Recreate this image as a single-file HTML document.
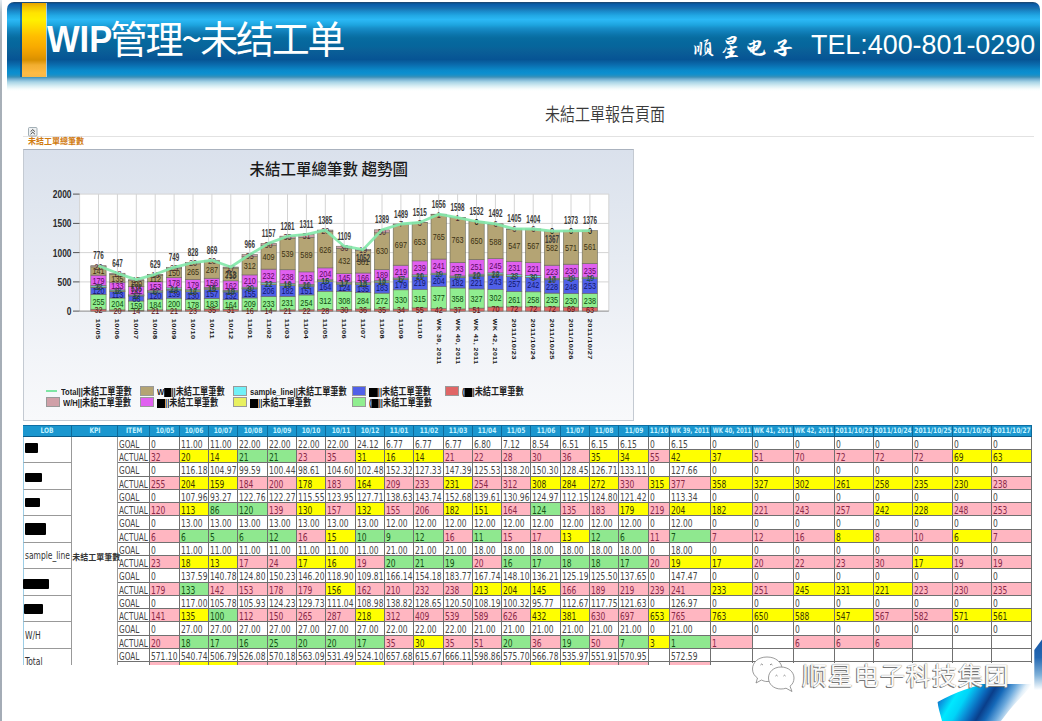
<!DOCTYPE html>
<html lang="zh">
<head>
<meta charset="utf-8">
<title>WIP管理~未结工单</title>
<style>
html,body{margin:0;padding:0;}
body{width:1042px;height:721px;overflow:hidden;position:relative;background:#fff;font-family:"Liberation Sans","Noto Sans CJK SC",sans-serif;}
.frame{position:absolute;left:0;top:0;width:1.5px;height:721px;background:linear-gradient(to bottom,#e4ecf2 0px,#b8c4cc 12px,#a8b0b8 40px,#a4acb6 100%);}
.hdr{position:absolute;left:7px;top:2px;width:1033px;height:90px;border-radius:7px 7px 0 0;
background:linear-gradient(to bottom,#ffffff 0px,#1a4a78 0.5px,#0d4f8a 1px,#0a5fa8 2.5px,#1064b0 4px,#1873b0 6.5px,#1a88c8 9px,#1c96d6 11px,#22a8e4 13.5px,#2bb8f5 17.5px,#26b0ec 20px,#1da4de 23px,#1890ca 26px,#1282bc 29px,#0b74aa 33px,#086ca0 36px,#06689e 40px,#06669c 44px,#0a6098 48px,#065494 57.5px,#0a68aa 62px,#0a88c8 68px,#0b8fd0 71px,#1890c8 73px,#3a90b8 75px,#70aed0 77px,#a8d4e6 80px,#d8eef4 84px,#f6fcfc 87px,#ffffff 89px);}
.ybar{position:absolute;left:22px;top:2.5px;width:24px;height:74px;
background:linear-gradient(to bottom,#e8a400 0px,#f2c400 4px,#ffe400 10px,#fff000 17px,#ffd800 25px,#ffbe00 33px,#f8aa00 44px,#e89a00 52px,#d89000 57px,#f2ae30 62px,#ffbb44 70px,#f8b848 74px);
box-shadow:1px 0 0 rgba(255,255,255,0.6),-2px 0 0 rgba(10,60,120,0.5);}
.t1{position:absolute;left:47px;top:11px;color:#fff;font-size:33.5px;white-space:nowrap;line-height:48px;}
.t1 b{font-weight:bold;font-family:"Liberation Sans",sans-serif;font-size:34.5px;display:inline-block;transform:scaleY(1.05);margin-right:-2.5px;}
.t1 span{font-family:"Noto Sans CJK SC",sans-serif;font-size:38px;letter-spacing:-2.2px;position:relative;top:1.5px;}
.t2{position:absolute;left:692px;top:29.5px;color:#fff;font-size:26px;line-height:36px;white-space:nowrap;font-family:"Zhi Mang Xing","Noto Serif CJK SC",serif;letter-spacing:3px;}
.t3{position:absolute;left:811px;top:26.5px;color:#fff;font-size:28px;line-height:36px;white-space:nowrap;font-family:"Liberation Sans",sans-serif;transform:scaleX(0.96);transform-origin:0 0;}
.ptitle{position:absolute;left:545px;top:102px;font-size:15px;line-height:20px;color:#3a3a3a;font-family:"Noto Sans CJK TC",sans-serif;font-weight:350;white-space:nowrap;transform:scaleY(1.2);transform-origin:0 0;}
.sep{position:absolute;left:23px;top:136px;width:1011px;height:1px;background:#e2e2e2;}
.ico{position:absolute;left:28px;top:127.5px;width:8px;height:8px;border:0.5px solid #9aa;background:#eef0f2;border-radius:1px;font-size:7px;line-height:4px;color:#555;text-align:center;overflow:hidden;}
.otitle{position:absolute;left:28px;top:135px;font-size:8px;line-height:12px;color:#d07a10;font-weight:bold;font-family:"Noto Sans CJK TC",sans-serif;white-space:nowrap;}
.chart{position:absolute;left:23px;top:148.5px;width:610.5px;height:272px;box-sizing:border-box;border:1px solid #c4cad2;border-top-color:#aab2be;background:linear-gradient(to bottom,#dae1ec 0%,#e6ebf2 40%,#f2f4f8 75%,#f8f9fb 100%);}
svg.ch{position:absolute;left:0;top:0;}
.ctitle{position:absolute;left:249.5px;top:157.5px;font-size:15.5px;line-height:20px;color:#1a1a1a;font-weight:500;font-family:"Noto Sans CJK TC",sans-serif;white-space:nowrap;}
.yl{font-family:"Liberation Sans",sans-serif;font-size:10.5px;font-weight:bold;fill:#2a2a2a;text-anchor:end;}
.sl{font-family:"Liberation Sans",sans-serif;font-size:9.8px;text-anchor:middle;}
.tl{font-family:"Liberation Sans",sans-serif;font-size:10.5px;font-weight:bold;fill:#3a3a3a;text-anchor:middle;}
.xl{font-family:"Liberation Sans",sans-serif;font-size:7.5px;font-weight:bold;fill:#111;letter-spacing:0.4px;}
.xw{letter-spacing:0.5px;font-size:7px;}
.lg{position:absolute;height:12px;line-height:12px;font-size:9.5px;color:#222;white-space:nowrap;font-family:"Liberation Sans","Noto Sans CJK TC",sans-serif;}
.lg b.sw{display:inline-block;width:12px;height:8px;border:1px solid #999;vertical-align:-1px;margin-right:3px;}
.lg b.ln{display:inline-block;width:11px;height:2px;vertical-align:3px;margin-right:4px;}
.lg span{display:inline-block;transform:scaleX(0.8);transform-origin:0 50%;font-weight:bold;}
.lg em{font-style:normal;font-size:10.2px;}
.rdi{display:inline-block;height:9px;background:#000;vertical-align:-2px;}
.h{position:absolute;top:425px;height:12px;line-height:10.5px;background:#1b97cf;border-top:1px solid #0d6fa5;border-bottom:1px solid #0a5a88;border-right:1px solid #0d6a9a;box-sizing:border-box;color:#c4f2ff;font-size:7.5px;font-weight:bold;text-align:center;white-space:nowrap;overflow:hidden;font-family:"DejaVu Sans",sans-serif;font-stretch:condensed;}
.h span{position:absolute;left:50%;top:0;transform:translateX(-50%) scaleX(0.88);}
.h.wk span{transform:translateX(-50%) scaleX(0.8);}
.c{position:absolute;box-sizing:border-box;border-right:1px solid #707070;border-bottom:1px solid #707070;font-size:10px;line-height:12.3px;padding-left:1px;white-space:nowrap;overflow:hidden;font-family:"DejaVu Sans",sans-serif;font-stretch:condensed;}
.c span{display:inline-block;transform:scaleX(0.84);transform-origin:0 50%;position:relative;top:2px;}
.it{color:#444 !important;}
.it span{transform:scaleX(0.81);}
.tbl{position:absolute;left:0;top:0;width:1042px;height:665px;overflow:hidden;}
.lob{position:absolute;left:23.3px;width:49px;box-sizing:border-box;border-left:1px solid #9ccde6;border-right:1.5px solid #999;border-bottom:1.5px solid #999;background:#fff;font-size:10px;color:#333;display:flex;align-items:center;padding-left:1px;font-family:"DejaVu Sans",sans-serif;font-stretch:condensed;white-space:nowrap;}
.lob span{display:inline-block;transform:scaleX(0.84);transform-origin:0 50%;}
.rd{position:absolute;background:#000;border-radius:1px;}
.kpi{position:absolute;left:72.3px;width:46px;box-sizing:border-box;border-right:1px solid #999;background:#fff;display:flex;align-items:center;font-size:8px;font-weight:bold;color:#333;font-family:"Noto Sans CJK TC",sans-serif;white-space:nowrap;}
.wm{position:absolute;left:745px;top:663px;width:288px;height:21px;background:#fff;}
.wmt{position:absolute;left:802px;top:657px;font-size:25px;letter-spacing:1px;line-height:34px;color:#fafafa;font-family:"Noto Sans CJK SC",sans-serif;white-space:nowrap;text-shadow:-1px 1px 0 #777,0 0 1px #555;}
</style>
</head>
<body>
<div class="frame"></div>
<div class="hdr"></div>
<div class="ybar"></div>
<div class="t1"><b>WIP</b><span>管理~未结工单</span></div>
<div class="t2">顺星电子</div>
<div class="t3">TEL:400-801-0290</div>

<div class="ptitle">未結工單報告頁面</div>
<div class="sep"></div>
<svg style="position:absolute;left:28px;top:127px" width="10" height="10" viewBox="0 0 10 10"><rect x="0.5" y="0.5" width="8.5" height="8.5" rx="1" fill="#eef1f3" stroke="#8e9ca4" stroke-width="0.8"/><path d="M2.6,4.6 L4.75,2.6 L6.9,4.6 M2.6,7.2 L4.75,5.2 L6.9,7.2" fill="none" stroke="#333" stroke-width="0.9"/></svg>
<div class="otitle">未結工單總筆數</div>

<div class="chart"></div>
<svg class="ch" width="1042" height="430" viewBox="0 0 1042 430">
<rect x="79.6" y="194" width="529.2" height="117.1" fill="#fff"/>
<line x1="79.6" y1="194" x2="79.6" y2="311.1" stroke="#d4d4d4" stroke-width="1"/>
<line x1="98.5" y1="194" x2="98.5" y2="311.1" stroke="#d4d4d4" stroke-width="1"/>
<line x1="117.4" y1="194" x2="117.4" y2="311.1" stroke="#d4d4d4" stroke-width="1"/>
<line x1="136.3" y1="194" x2="136.3" y2="311.1" stroke="#d4d4d4" stroke-width="1"/>
<line x1="155.2" y1="194" x2="155.2" y2="311.1" stroke="#d4d4d4" stroke-width="1"/>
<line x1="174.1" y1="194" x2="174.1" y2="311.1" stroke="#d4d4d4" stroke-width="1"/>
<line x1="193.0" y1="194" x2="193.0" y2="311.1" stroke="#d4d4d4" stroke-width="1"/>
<line x1="211.9" y1="194" x2="211.9" y2="311.1" stroke="#d4d4d4" stroke-width="1"/>
<line x1="230.8" y1="194" x2="230.8" y2="311.1" stroke="#d4d4d4" stroke-width="1"/>
<line x1="249.7" y1="194" x2="249.7" y2="311.1" stroke="#d4d4d4" stroke-width="1"/>
<line x1="268.6" y1="194" x2="268.6" y2="311.1" stroke="#d4d4d4" stroke-width="1"/>
<line x1="287.5" y1="194" x2="287.5" y2="311.1" stroke="#d4d4d4" stroke-width="1"/>
<line x1="306.4" y1="194" x2="306.4" y2="311.1" stroke="#d4d4d4" stroke-width="1"/>
<line x1="325.3" y1="194" x2="325.3" y2="311.1" stroke="#d4d4d4" stroke-width="1"/>
<line x1="344.2" y1="194" x2="344.2" y2="311.1" stroke="#d4d4d4" stroke-width="1"/>
<line x1="363.1" y1="194" x2="363.1" y2="311.1" stroke="#d4d4d4" stroke-width="1"/>
<line x1="382.0" y1="194" x2="382.0" y2="311.1" stroke="#d4d4d4" stroke-width="1"/>
<line x1="400.9" y1="194" x2="400.9" y2="311.1" stroke="#d4d4d4" stroke-width="1"/>
<line x1="419.8" y1="194" x2="419.8" y2="311.1" stroke="#d4d4d4" stroke-width="1"/>
<line x1="438.7" y1="194" x2="438.7" y2="311.1" stroke="#d4d4d4" stroke-width="1"/>
<line x1="457.6" y1="194" x2="457.6" y2="311.1" stroke="#d4d4d4" stroke-width="1"/>
<line x1="476.5" y1="194" x2="476.5" y2="311.1" stroke="#d4d4d4" stroke-width="1"/>
<line x1="495.4" y1="194" x2="495.4" y2="311.1" stroke="#d4d4d4" stroke-width="1"/>
<line x1="514.3" y1="194" x2="514.3" y2="311.1" stroke="#d4d4d4" stroke-width="1"/>
<line x1="533.2" y1="194" x2="533.2" y2="311.1" stroke="#d4d4d4" stroke-width="1"/>
<line x1="552.1" y1="194" x2="552.1" y2="311.1" stroke="#d4d4d4" stroke-width="1"/>
<line x1="571.0" y1="194" x2="571.0" y2="311.1" stroke="#d4d4d4" stroke-width="1"/>
<line x1="589.9" y1="194" x2="589.9" y2="311.1" stroke="#d4d4d4" stroke-width="1"/>
<line x1="608.8" y1="194" x2="608.8" y2="311.1" stroke="#d4d4d4" stroke-width="1"/>
<line x1="79.6" y1="281.9" x2="608.8" y2="281.9" stroke="#d4d4d4" stroke-width="1"/>
<line x1="79.6" y1="252.6" x2="608.8" y2="252.6" stroke="#d4d4d4" stroke-width="1"/>
<line x1="79.6" y1="223.4" x2="608.8" y2="223.4" stroke="#d4d4d4" stroke-width="1"/>
<line x1="79.6" y1="194.1" x2="608.8" y2="194.1" stroke="#d4d4d4" stroke-width="1"/>
<line x1="73" y1="311.1" x2="79.6" y2="311.1" stroke="#555" stroke-width="1"/>
<text transform="translate(71.5,315.0) scale(0.8,1)" class="yl">0</text>
<line x1="73" y1="281.9" x2="79.6" y2="281.9" stroke="#555" stroke-width="1"/>
<text transform="translate(71.5,285.8) scale(0.8,1)" class="yl">500</text>
<line x1="73" y1="252.6" x2="79.6" y2="252.6" stroke="#555" stroke-width="1"/>
<text transform="translate(71.5,256.5) scale(0.8,1)" class="yl">1000</text>
<line x1="73" y1="223.4" x2="79.6" y2="223.4" stroke="#555" stroke-width="1"/>
<text transform="translate(71.5,227.3) scale(0.8,1)" class="yl">1500</text>
<line x1="73" y1="194.1" x2="79.6" y2="194.1" stroke="#555" stroke-width="1"/>
<text transform="translate(71.5,198.0) scale(0.8,1)" class="yl">2000</text>
<line x1="79.6" y1="311.1" x2="608.8" y2="311.1" stroke="#888" stroke-width="1"/>
<rect x="90.8" y="309.23" width="15.3" height="1.87" fill="#e06666" stroke="#6a6a5a" stroke-width="0.6"/>
<rect x="90.8" y="294.31" width="15.3" height="14.92" fill="#90ee90" stroke="#6a6a5a" stroke-width="0.6"/>
<rect x="90.8" y="287.29" width="15.3" height="7.02" fill="#5060e8" stroke="#6a6a5a" stroke-width="0.6"/>
<rect x="90.8" y="286.94" width="15.3" height="0.35" fill="#e8f060" stroke="#6a6a5a" stroke-width="0.6"/>
<rect x="90.8" y="285.59" width="15.3" height="1.35" fill="#70f0f8" stroke="#6a6a5a" stroke-width="0.6"/>
<rect x="90.8" y="275.12" width="15.3" height="10.47" fill="#e060f0" stroke="#6a6a5a" stroke-width="0.6"/>
<rect x="90.8" y="266.87" width="15.3" height="8.25" fill="#b4a474" stroke="#6a6a5a" stroke-width="0.6"/>
<rect x="90.8" y="265.70" width="15.3" height="1.17" fill="#d0a0a8" stroke="#6a6a5a" stroke-width="0.6"/>
<rect x="109.7" y="309.93" width="15.3" height="1.17" fill="#e06666" stroke="#6a6a5a" stroke-width="0.6"/>
<rect x="109.7" y="298.00" width="15.3" height="11.93" fill="#90ee90" stroke="#6a6a5a" stroke-width="0.6"/>
<rect x="109.7" y="291.39" width="15.3" height="6.61" fill="#5060e8" stroke="#6a6a5a" stroke-width="0.6"/>
<rect x="109.7" y="291.03" width="15.3" height="0.35" fill="#e8f060" stroke="#6a6a5a" stroke-width="0.6"/>
<rect x="109.7" y="289.98" width="15.3" height="1.05" fill="#70f0f8" stroke="#6a6a5a" stroke-width="0.6"/>
<rect x="109.7" y="282.20" width="15.3" height="7.78" fill="#e060f0" stroke="#6a6a5a" stroke-width="0.6"/>
<rect x="109.7" y="274.30" width="15.3" height="7.90" fill="#b4a474" stroke="#6a6a5a" stroke-width="0.6"/>
<rect x="109.7" y="273.25" width="15.3" height="1.05" fill="#d0a0a8" stroke="#6a6a5a" stroke-width="0.6"/>
<rect x="128.6" y="310.28" width="15.3" height="0.82" fill="#e06666" stroke="#6a6a5a" stroke-width="0.6"/>
<rect x="128.6" y="300.98" width="15.3" height="9.30" fill="#90ee90" stroke="#6a6a5a" stroke-width="0.6"/>
<rect x="128.6" y="295.95" width="15.3" height="5.03" fill="#5060e8" stroke="#6a6a5a" stroke-width="0.6"/>
<rect x="128.6" y="295.66" width="15.3" height="0.29" fill="#e8f060" stroke="#6a6a5a" stroke-width="0.6"/>
<rect x="128.6" y="294.90" width="15.3" height="0.76" fill="#70f0f8" stroke="#6a6a5a" stroke-width="0.6"/>
<rect x="128.6" y="286.59" width="15.3" height="8.31" fill="#e060f0" stroke="#6a6a5a" stroke-width="0.6"/>
<rect x="128.6" y="280.74" width="15.3" height="5.85" fill="#b4a474" stroke="#6a6a5a" stroke-width="0.6"/>
<rect x="128.6" y="279.74" width="15.3" height="0.99" fill="#d0a0a8" stroke="#6a6a5a" stroke-width="0.6"/>
<rect x="147.5" y="309.87" width="15.3" height="1.23" fill="#e06666" stroke="#6a6a5a" stroke-width="0.6"/>
<rect x="147.5" y="299.11" width="15.3" height="10.76" fill="#90ee90" stroke="#6a6a5a" stroke-width="0.6"/>
<rect x="147.5" y="292.09" width="15.3" height="7.02" fill="#5060e8" stroke="#6a6a5a" stroke-width="0.6"/>
<rect x="147.5" y="291.74" width="15.3" height="0.35" fill="#e8f060" stroke="#6a6a5a" stroke-width="0.6"/>
<rect x="147.5" y="290.74" width="15.3" height="0.99" fill="#70f0f8" stroke="#6a6a5a" stroke-width="0.6"/>
<rect x="147.5" y="281.79" width="15.3" height="8.95" fill="#e060f0" stroke="#6a6a5a" stroke-width="0.6"/>
<rect x="147.5" y="275.24" width="15.3" height="6.55" fill="#b4a474" stroke="#6a6a5a" stroke-width="0.6"/>
<rect x="147.5" y="274.30" width="15.3" height="0.94" fill="#d0a0a8" stroke="#6a6a5a" stroke-width="0.6"/>
<rect x="166.4" y="309.87" width="15.3" height="1.23" fill="#e06666" stroke="#6a6a5a" stroke-width="0.6"/>
<rect x="166.4" y="298.17" width="15.3" height="11.70" fill="#90ee90" stroke="#6a6a5a" stroke-width="0.6"/>
<rect x="166.4" y="290.04" width="15.3" height="8.13" fill="#5060e8" stroke="#6a6a5a" stroke-width="0.6"/>
<rect x="166.4" y="289.34" width="15.3" height="0.70" fill="#e8f060" stroke="#6a6a5a" stroke-width="0.6"/>
<rect x="166.4" y="287.93" width="15.3" height="1.40" fill="#70f0f8" stroke="#6a6a5a" stroke-width="0.6"/>
<rect x="166.4" y="277.52" width="15.3" height="10.41" fill="#e060f0" stroke="#6a6a5a" stroke-width="0.6"/>
<rect x="166.4" y="268.75" width="15.3" height="8.77" fill="#b4a474" stroke="#6a6a5a" stroke-width="0.6"/>
<rect x="166.4" y="267.28" width="15.3" height="1.46" fill="#d0a0a8" stroke="#6a6a5a" stroke-width="0.6"/>
<rect x="185.3" y="309.75" width="15.3" height="1.35" fill="#e06666" stroke="#6a6a5a" stroke-width="0.6"/>
<rect x="185.3" y="299.34" width="15.3" height="10.41" fill="#90ee90" stroke="#6a6a5a" stroke-width="0.6"/>
<rect x="185.3" y="291.74" width="15.3" height="7.60" fill="#5060e8" stroke="#6a6a5a" stroke-width="0.6"/>
<rect x="185.3" y="290.80" width="15.3" height="0.94" fill="#e8f060" stroke="#6a6a5a" stroke-width="0.6"/>
<rect x="185.3" y="289.81" width="15.3" height="0.99" fill="#70f0f8" stroke="#6a6a5a" stroke-width="0.6"/>
<rect x="185.3" y="279.33" width="15.3" height="10.47" fill="#e060f0" stroke="#6a6a5a" stroke-width="0.6"/>
<rect x="185.3" y="263.83" width="15.3" height="15.50" fill="#b4a474" stroke="#6a6a5a" stroke-width="0.6"/>
<rect x="185.3" y="262.66" width="15.3" height="1.17" fill="#d0a0a8" stroke="#6a6a5a" stroke-width="0.6"/>
<rect x="204.2" y="309.05" width="15.3" height="2.05" fill="#e06666" stroke="#6a6a5a" stroke-width="0.6"/>
<rect x="204.2" y="298.35" width="15.3" height="10.71" fill="#90ee90" stroke="#6a6a5a" stroke-width="0.6"/>
<rect x="204.2" y="289.16" width="15.3" height="9.18" fill="#5060e8" stroke="#6a6a5a" stroke-width="0.6"/>
<rect x="204.2" y="288.29" width="15.3" height="0.88" fill="#e8f060" stroke="#6a6a5a" stroke-width="0.6"/>
<rect x="204.2" y="287.35" width="15.3" height="0.94" fill="#70f0f8" stroke="#6a6a5a" stroke-width="0.6"/>
<rect x="204.2" y="278.22" width="15.3" height="9.13" fill="#e060f0" stroke="#6a6a5a" stroke-width="0.6"/>
<rect x="204.2" y="261.43" width="15.3" height="16.79" fill="#b4a474" stroke="#6a6a5a" stroke-width="0.6"/>
<rect x="204.2" y="260.26" width="15.3" height="1.17" fill="#d0a0a8" stroke="#6a6a5a" stroke-width="0.6"/>
<rect x="223.1" y="309.29" width="15.3" height="1.81" fill="#e06666" stroke="#6a6a5a" stroke-width="0.6"/>
<rect x="223.1" y="299.69" width="15.3" height="9.59" fill="#90ee90" stroke="#6a6a5a" stroke-width="0.6"/>
<rect x="223.1" y="291.97" width="15.3" height="7.72" fill="#5060e8" stroke="#6a6a5a" stroke-width="0.6"/>
<rect x="223.1" y="291.39" width="15.3" height="0.58" fill="#e8f060" stroke="#6a6a5a" stroke-width="0.6"/>
<rect x="223.1" y="290.27" width="15.3" height="1.11" fill="#70f0f8" stroke="#6a6a5a" stroke-width="0.6"/>
<rect x="223.1" y="280.80" width="15.3" height="9.48" fill="#e060f0" stroke="#6a6a5a" stroke-width="0.6"/>
<rect x="223.1" y="268.04" width="15.3" height="12.75" fill="#b4a474" stroke="#6a6a5a" stroke-width="0.6"/>
<rect x="223.1" y="267.05" width="15.3" height="0.99" fill="#d0a0a8" stroke="#6a6a5a" stroke-width="0.6"/>
<rect x="242.0" y="310.16" width="15.3" height="0.94" fill="#e06666" stroke="#6a6a5a" stroke-width="0.6"/>
<rect x="242.0" y="297.94" width="15.3" height="12.23" fill="#90ee90" stroke="#6a6a5a" stroke-width="0.6"/>
<rect x="242.0" y="288.87" width="15.3" height="9.07" fill="#5060e8" stroke="#6a6a5a" stroke-width="0.6"/>
<rect x="242.0" y="288.34" width="15.3" height="0.53" fill="#e8f060" stroke="#6a6a5a" stroke-width="0.6"/>
<rect x="242.0" y="287.17" width="15.3" height="1.17" fill="#70f0f8" stroke="#6a6a5a" stroke-width="0.6"/>
<rect x="242.0" y="274.89" width="15.3" height="12.29" fill="#e060f0" stroke="#6a6a5a" stroke-width="0.6"/>
<rect x="242.0" y="256.64" width="15.3" height="18.25" fill="#b4a474" stroke="#6a6a5a" stroke-width="0.6"/>
<rect x="242.0" y="254.59" width="15.3" height="2.05" fill="#d0a0a8" stroke="#6a6a5a" stroke-width="0.6"/>
<rect x="261.0" y="310.28" width="15.3" height="0.82" fill="#e06666" stroke="#6a6a5a" stroke-width="0.6"/>
<rect x="261.0" y="296.65" width="15.3" height="13.63" fill="#90ee90" stroke="#6a6a5a" stroke-width="0.6"/>
<rect x="261.0" y="284.60" width="15.3" height="12.05" fill="#5060e8" stroke="#6a6a5a" stroke-width="0.6"/>
<rect x="261.0" y="283.90" width="15.3" height="0.70" fill="#e8f060" stroke="#6a6a5a" stroke-width="0.6"/>
<rect x="261.0" y="282.67" width="15.3" height="1.23" fill="#70f0f8" stroke="#6a6a5a" stroke-width="0.6"/>
<rect x="261.0" y="269.10" width="15.3" height="13.57" fill="#e060f0" stroke="#6a6a5a" stroke-width="0.6"/>
<rect x="261.0" y="245.17" width="15.3" height="23.93" fill="#b4a474" stroke="#6a6a5a" stroke-width="0.6"/>
<rect x="261.0" y="243.42" width="15.3" height="1.75" fill="#d0a0a8" stroke="#6a6a5a" stroke-width="0.6"/>
<rect x="279.9" y="309.87" width="15.3" height="1.23" fill="#e06666" stroke="#6a6a5a" stroke-width="0.6"/>
<rect x="279.9" y="296.36" width="15.3" height="13.51" fill="#90ee90" stroke="#6a6a5a" stroke-width="0.6"/>
<rect x="279.9" y="285.71" width="15.3" height="10.65" fill="#5060e8" stroke="#6a6a5a" stroke-width="0.6"/>
<rect x="279.9" y="284.78" width="15.3" height="0.94" fill="#e8f060" stroke="#6a6a5a" stroke-width="0.6"/>
<rect x="279.9" y="283.66" width="15.3" height="1.11" fill="#70f0f8" stroke="#6a6a5a" stroke-width="0.6"/>
<rect x="279.9" y="269.74" width="15.3" height="13.92" fill="#e060f0" stroke="#6a6a5a" stroke-width="0.6"/>
<rect x="279.9" y="238.21" width="15.3" height="31.53" fill="#b4a474" stroke="#6a6a5a" stroke-width="0.6"/>
<rect x="279.9" y="236.16" width="15.3" height="2.05" fill="#d0a0a8" stroke="#6a6a5a" stroke-width="0.6"/>
<rect x="298.8" y="309.81" width="15.3" height="1.29" fill="#e06666" stroke="#6a6a5a" stroke-width="0.6"/>
<rect x="298.8" y="294.95" width="15.3" height="14.86" fill="#90ee90" stroke="#6a6a5a" stroke-width="0.6"/>
<rect x="298.8" y="286.12" width="15.3" height="8.83" fill="#5060e8" stroke="#6a6a5a" stroke-width="0.6"/>
<rect x="298.8" y="285.48" width="15.3" height="0.64" fill="#e8f060" stroke="#6a6a5a" stroke-width="0.6"/>
<rect x="298.8" y="284.31" width="15.3" height="1.17" fill="#70f0f8" stroke="#6a6a5a" stroke-width="0.6"/>
<rect x="298.8" y="271.85" width="15.3" height="12.46" fill="#e060f0" stroke="#6a6a5a" stroke-width="0.6"/>
<rect x="298.8" y="237.39" width="15.3" height="34.46" fill="#b4a474" stroke="#6a6a5a" stroke-width="0.6"/>
<rect x="298.8" y="234.41" width="15.3" height="2.98" fill="#d0a0a8" stroke="#6a6a5a" stroke-width="0.6"/>
<rect x="317.6" y="309.46" width="15.3" height="1.64" fill="#e06666" stroke="#6a6a5a" stroke-width="0.6"/>
<rect x="317.6" y="291.21" width="15.3" height="18.25" fill="#90ee90" stroke="#6a6a5a" stroke-width="0.6"/>
<rect x="317.6" y="281.62" width="15.3" height="9.59" fill="#5060e8" stroke="#6a6a5a" stroke-width="0.6"/>
<rect x="317.6" y="280.74" width="15.3" height="0.88" fill="#e8f060" stroke="#6a6a5a" stroke-width="0.6"/>
<rect x="317.6" y="279.80" width="15.3" height="0.94" fill="#70f0f8" stroke="#6a6a5a" stroke-width="0.6"/>
<rect x="317.6" y="267.87" width="15.3" height="11.93" fill="#e060f0" stroke="#6a6a5a" stroke-width="0.6"/>
<rect x="317.6" y="231.25" width="15.3" height="36.62" fill="#b4a474" stroke="#6a6a5a" stroke-width="0.6"/>
<rect x="317.6" y="230.08" width="15.3" height="1.17" fill="#d0a0a8" stroke="#6a6a5a" stroke-width="0.6"/>
<rect x="336.5" y="309.35" width="15.3" height="1.75" fill="#e06666" stroke="#6a6a5a" stroke-width="0.6"/>
<rect x="336.5" y="291.33" width="15.3" height="18.02" fill="#90ee90" stroke="#6a6a5a" stroke-width="0.6"/>
<rect x="336.5" y="284.07" width="15.3" height="7.25" fill="#5060e8" stroke="#6a6a5a" stroke-width="0.6"/>
<rect x="336.5" y="283.08" width="15.3" height="0.99" fill="#e8f060" stroke="#6a6a5a" stroke-width="0.6"/>
<rect x="336.5" y="282.08" width="15.3" height="0.99" fill="#70f0f8" stroke="#6a6a5a" stroke-width="0.6"/>
<rect x="336.5" y="273.60" width="15.3" height="8.48" fill="#e060f0" stroke="#6a6a5a" stroke-width="0.6"/>
<rect x="336.5" y="248.33" width="15.3" height="25.27" fill="#b4a474" stroke="#6a6a5a" stroke-width="0.6"/>
<rect x="336.5" y="246.22" width="15.3" height="2.11" fill="#d0a0a8" stroke="#6a6a5a" stroke-width="0.6"/>
<rect x="355.5" y="308.99" width="15.3" height="2.11" fill="#e06666" stroke="#6a6a5a" stroke-width="0.6"/>
<rect x="355.5" y="292.38" width="15.3" height="16.61" fill="#90ee90" stroke="#6a6a5a" stroke-width="0.6"/>
<rect x="355.5" y="284.48" width="15.3" height="7.90" fill="#5060e8" stroke="#6a6a5a" stroke-width="0.6"/>
<rect x="355.5" y="283.72" width="15.3" height="0.76" fill="#e8f060" stroke="#6a6a5a" stroke-width="0.6"/>
<rect x="355.5" y="282.67" width="15.3" height="1.05" fill="#70f0f8" stroke="#6a6a5a" stroke-width="0.6"/>
<rect x="355.5" y="272.96" width="15.3" height="9.71" fill="#e060f0" stroke="#6a6a5a" stroke-width="0.6"/>
<rect x="355.5" y="250.67" width="15.3" height="22.29" fill="#b4a474" stroke="#6a6a5a" stroke-width="0.6"/>
<rect x="355.5" y="249.56" width="15.3" height="1.11" fill="#d0a0a8" stroke="#6a6a5a" stroke-width="0.6"/>
<rect x="374.4" y="309.05" width="15.3" height="2.05" fill="#e06666" stroke="#6a6a5a" stroke-width="0.6"/>
<rect x="374.4" y="293.14" width="15.3" height="15.91" fill="#90ee90" stroke="#6a6a5a" stroke-width="0.6"/>
<rect x="374.4" y="282.44" width="15.3" height="10.71" fill="#5060e8" stroke="#6a6a5a" stroke-width="0.6"/>
<rect x="374.4" y="281.73" width="15.3" height="0.70" fill="#e8f060" stroke="#6a6a5a" stroke-width="0.6"/>
<rect x="374.4" y="280.68" width="15.3" height="1.05" fill="#70f0f8" stroke="#6a6a5a" stroke-width="0.6"/>
<rect x="374.4" y="269.62" width="15.3" height="11.06" fill="#e060f0" stroke="#6a6a5a" stroke-width="0.6"/>
<rect x="374.4" y="232.77" width="15.3" height="36.86" fill="#b4a474" stroke="#6a6a5a" stroke-width="0.6"/>
<rect x="374.4" y="229.84" width="15.3" height="2.93" fill="#d0a0a8" stroke="#6a6a5a" stroke-width="0.6"/>
<rect x="393.2" y="309.11" width="15.3" height="1.99" fill="#e06666" stroke="#6a6a5a" stroke-width="0.6"/>
<rect x="393.2" y="289.81" width="15.3" height="19.31" fill="#90ee90" stroke="#6a6a5a" stroke-width="0.6"/>
<rect x="393.2" y="279.33" width="15.3" height="10.47" fill="#5060e8" stroke="#6a6a5a" stroke-width="0.6"/>
<rect x="393.2" y="278.98" width="15.3" height="0.35" fill="#e8f060" stroke="#6a6a5a" stroke-width="0.6"/>
<rect x="393.2" y="277.99" width="15.3" height="0.99" fill="#70f0f8" stroke="#6a6a5a" stroke-width="0.6"/>
<rect x="393.2" y="265.18" width="15.3" height="12.81" fill="#e060f0" stroke="#6a6a5a" stroke-width="0.6"/>
<rect x="393.2" y="224.40" width="15.3" height="40.77" fill="#b4a474" stroke="#6a6a5a" stroke-width="0.6"/>
<rect x="393.2" y="223.99" width="15.3" height="0.41" fill="#d0a0a8" stroke="#6a6a5a" stroke-width="0.6"/>
<rect x="412.1" y="307.88" width="15.3" height="3.22" fill="#e06666" stroke="#6a6a5a" stroke-width="0.6"/>
<rect x="412.1" y="289.46" width="15.3" height="18.43" fill="#90ee90" stroke="#6a6a5a" stroke-width="0.6"/>
<rect x="412.1" y="276.64" width="15.3" height="12.81" fill="#5060e8" stroke="#6a6a5a" stroke-width="0.6"/>
<rect x="412.1" y="276.00" width="15.3" height="0.64" fill="#e8f060" stroke="#6a6a5a" stroke-width="0.6"/>
<rect x="412.1" y="274.83" width="15.3" height="1.17" fill="#70f0f8" stroke="#6a6a5a" stroke-width="0.6"/>
<rect x="412.1" y="260.85" width="15.3" height="13.98" fill="#e060f0" stroke="#6a6a5a" stroke-width="0.6"/>
<rect x="412.1" y="222.65" width="15.3" height="38.20" fill="#b4a474" stroke="#6a6a5a" stroke-width="0.6"/>
<rect x="412.1" y="222.47" width="15.3" height="0.18" fill="#d0a0a8" stroke="#6a6a5a" stroke-width="0.6"/>
<rect x="431.0" y="308.64" width="15.3" height="2.46" fill="#e06666" stroke="#6a6a5a" stroke-width="0.6"/>
<rect x="431.0" y="286.59" width="15.3" height="22.05" fill="#90ee90" stroke="#6a6a5a" stroke-width="0.6"/>
<rect x="431.0" y="274.65" width="15.3" height="11.93" fill="#5060e8" stroke="#6a6a5a" stroke-width="0.6"/>
<rect x="431.0" y="274.25" width="15.3" height="0.41" fill="#e8f060" stroke="#6a6a5a" stroke-width="0.6"/>
<rect x="431.0" y="273.13" width="15.3" height="1.11" fill="#70f0f8" stroke="#6a6a5a" stroke-width="0.6"/>
<rect x="431.0" y="259.04" width="15.3" height="14.10" fill="#e060f0" stroke="#6a6a5a" stroke-width="0.6"/>
<rect x="431.0" y="214.28" width="15.3" height="44.75" fill="#b4a474" stroke="#6a6a5a" stroke-width="0.6"/>
<rect x="431.0" y="214.22" width="15.3" height="0.06" fill="#d0a0a8" stroke="#6a6a5a" stroke-width="0.6"/>
<rect x="450.0" y="308.94" width="15.3" height="2.16" fill="#e06666" stroke="#6a6a5a" stroke-width="0.6"/>
<rect x="450.0" y="287.99" width="15.3" height="20.94" fill="#90ee90" stroke="#6a6a5a" stroke-width="0.6"/>
<rect x="450.0" y="277.35" width="15.3" height="10.65" fill="#5060e8" stroke="#6a6a5a" stroke-width="0.6"/>
<rect x="450.0" y="276.94" width="15.3" height="0.41" fill="#e8f060" stroke="#6a6a5a" stroke-width="0.6"/>
<rect x="450.0" y="275.94" width="15.3" height="0.99" fill="#70f0f8" stroke="#6a6a5a" stroke-width="0.6"/>
<rect x="450.0" y="262.31" width="15.3" height="13.63" fill="#e060f0" stroke="#6a6a5a" stroke-width="0.6"/>
<rect x="450.0" y="217.68" width="15.3" height="44.64" fill="#b4a474" stroke="#6a6a5a" stroke-width="0.6"/>
<rect x="450.0" y="217.62" width="15.3" height="0.06" fill="#d0a0a8" stroke="#6a6a5a" stroke-width="0.6"/>
<rect x="468.9" y="308.12" width="15.3" height="2.98" fill="#e06666" stroke="#6a6a5a" stroke-width="0.6"/>
<rect x="468.9" y="288.99" width="15.3" height="19.13" fill="#90ee90" stroke="#6a6a5a" stroke-width="0.6"/>
<rect x="468.9" y="276.06" width="15.3" height="12.93" fill="#5060e8" stroke="#6a6a5a" stroke-width="0.6"/>
<rect x="468.9" y="275.36" width="15.3" height="0.70" fill="#e8f060" stroke="#6a6a5a" stroke-width="0.6"/>
<rect x="468.9" y="274.19" width="15.3" height="1.17" fill="#70f0f8" stroke="#6a6a5a" stroke-width="0.6"/>
<rect x="468.9" y="259.50" width="15.3" height="14.68" fill="#e060f0" stroke="#6a6a5a" stroke-width="0.6"/>
<rect x="468.9" y="221.48" width="15.3" height="38.03" fill="#b4a474" stroke="#6a6a5a" stroke-width="0.6"/>
<rect x="487.8" y="307.00" width="15.3" height="4.10" fill="#e06666" stroke="#6a6a5a" stroke-width="0.6"/>
<rect x="487.8" y="289.34" width="15.3" height="17.67" fill="#90ee90" stroke="#6a6a5a" stroke-width="0.6"/>
<rect x="487.8" y="275.12" width="15.3" height="14.22" fill="#5060e8" stroke="#6a6a5a" stroke-width="0.6"/>
<rect x="487.8" y="274.19" width="15.3" height="0.94" fill="#e8f060" stroke="#6a6a5a" stroke-width="0.6"/>
<rect x="487.8" y="272.90" width="15.3" height="1.29" fill="#70f0f8" stroke="#6a6a5a" stroke-width="0.6"/>
<rect x="487.8" y="258.57" width="15.3" height="14.33" fill="#e060f0" stroke="#6a6a5a" stroke-width="0.6"/>
<rect x="487.8" y="224.17" width="15.3" height="34.40" fill="#b4a474" stroke="#6a6a5a" stroke-width="0.6"/>
<rect x="487.8" y="223.82" width="15.3" height="0.35" fill="#d0a0a8" stroke="#6a6a5a" stroke-width="0.6"/>
<rect x="506.6" y="306.89" width="15.3" height="4.21" fill="#e06666" stroke="#6a6a5a" stroke-width="0.6"/>
<rect x="506.6" y="291.62" width="15.3" height="15.27" fill="#90ee90" stroke="#6a6a5a" stroke-width="0.6"/>
<rect x="506.6" y="276.59" width="15.3" height="15.03" fill="#5060e8" stroke="#6a6a5a" stroke-width="0.6"/>
<rect x="506.6" y="276.12" width="15.3" height="0.47" fill="#e8f060" stroke="#6a6a5a" stroke-width="0.6"/>
<rect x="506.6" y="274.77" width="15.3" height="1.35" fill="#70f0f8" stroke="#6a6a5a" stroke-width="0.6"/>
<rect x="506.6" y="261.26" width="15.3" height="13.51" fill="#e060f0" stroke="#6a6a5a" stroke-width="0.6"/>
<rect x="506.6" y="229.26" width="15.3" height="32.00" fill="#b4a474" stroke="#6a6a5a" stroke-width="0.6"/>
<rect x="506.6" y="228.91" width="15.3" height="0.35" fill="#d0a0a8" stroke="#6a6a5a" stroke-width="0.6"/>
<rect x="525.5" y="306.89" width="15.3" height="4.21" fill="#e06666" stroke="#6a6a5a" stroke-width="0.6"/>
<rect x="525.5" y="291.80" width="15.3" height="15.09" fill="#90ee90" stroke="#6a6a5a" stroke-width="0.6"/>
<rect x="525.5" y="277.64" width="15.3" height="14.16" fill="#5060e8" stroke="#6a6a5a" stroke-width="0.6"/>
<rect x="525.5" y="277.17" width="15.3" height="0.47" fill="#e8f060" stroke="#6a6a5a" stroke-width="0.6"/>
<rect x="525.5" y="275.42" width="15.3" height="1.75" fill="#70f0f8" stroke="#6a6a5a" stroke-width="0.6"/>
<rect x="525.5" y="262.49" width="15.3" height="12.93" fill="#e060f0" stroke="#6a6a5a" stroke-width="0.6"/>
<rect x="525.5" y="229.32" width="15.3" height="33.17" fill="#b4a474" stroke="#6a6a5a" stroke-width="0.6"/>
<rect x="525.5" y="228.97" width="15.3" height="0.35" fill="#d0a0a8" stroke="#6a6a5a" stroke-width="0.6"/>
<rect x="544.4" y="306.89" width="15.3" height="4.21" fill="#e06666" stroke="#6a6a5a" stroke-width="0.6"/>
<rect x="544.4" y="293.14" width="15.3" height="13.75" fill="#90ee90" stroke="#6a6a5a" stroke-width="0.6"/>
<rect x="544.4" y="279.80" width="15.3" height="13.34" fill="#5060e8" stroke="#6a6a5a" stroke-width="0.6"/>
<rect x="544.4" y="279.22" width="15.3" height="0.58" fill="#e8f060" stroke="#6a6a5a" stroke-width="0.6"/>
<rect x="544.4" y="278.22" width="15.3" height="0.99" fill="#70f0f8" stroke="#6a6a5a" stroke-width="0.6"/>
<rect x="544.4" y="265.18" width="15.3" height="13.05" fill="#e060f0" stroke="#6a6a5a" stroke-width="0.6"/>
<rect x="544.4" y="231.13" width="15.3" height="34.05" fill="#b4a474" stroke="#6a6a5a" stroke-width="0.6"/>
<rect x="563.4" y="307.06" width="15.3" height="4.04" fill="#e06666" stroke="#6a6a5a" stroke-width="0.6"/>
<rect x="563.4" y="293.61" width="15.3" height="13.45" fill="#90ee90" stroke="#6a6a5a" stroke-width="0.6"/>
<rect x="563.4" y="279.10" width="15.3" height="14.51" fill="#5060e8" stroke="#6a6a5a" stroke-width="0.6"/>
<rect x="563.4" y="278.75" width="15.3" height="0.35" fill="#e8f060" stroke="#6a6a5a" stroke-width="0.6"/>
<rect x="563.4" y="277.64" width="15.3" height="1.11" fill="#70f0f8" stroke="#6a6a5a" stroke-width="0.6"/>
<rect x="563.4" y="264.18" width="15.3" height="13.46" fill="#e060f0" stroke="#6a6a5a" stroke-width="0.6"/>
<rect x="563.4" y="230.78" width="15.3" height="33.40" fill="#b4a474" stroke="#6a6a5a" stroke-width="0.6"/>
<rect x="582.2" y="307.41" width="15.3" height="3.69" fill="#e06666" stroke="#6a6a5a" stroke-width="0.6"/>
<rect x="582.2" y="293.49" width="15.3" height="13.92" fill="#90ee90" stroke="#6a6a5a" stroke-width="0.6"/>
<rect x="582.2" y="278.69" width="15.3" height="14.80" fill="#5060e8" stroke="#6a6a5a" stroke-width="0.6"/>
<rect x="582.2" y="278.28" width="15.3" height="0.41" fill="#e8f060" stroke="#6a6a5a" stroke-width="0.6"/>
<rect x="582.2" y="277.17" width="15.3" height="1.11" fill="#70f0f8" stroke="#6a6a5a" stroke-width="0.6"/>
<rect x="582.2" y="263.42" width="15.3" height="13.75" fill="#e060f0" stroke="#6a6a5a" stroke-width="0.6"/>
<rect x="582.2" y="230.60" width="15.3" height="32.82" fill="#b4a474" stroke="#6a6a5a" stroke-width="0.6"/>
<text transform="translate(98.5,313.4) scale(0.74,1)" class="sl" fill="#5a1010">32</text>
<text transform="translate(98.5,305.0) scale(0.74,1)" class="sl" fill="#0e4a0e">255</text>
<text transform="translate(98.5,294.0) scale(0.74,1)" class="sl" fill="#10186a">120</text>
<text transform="translate(98.5,290.3) scale(0.74,1)" class="sl" fill="#4a4a10">6</text>
<text transform="translate(98.5,289.5) scale(0.74,1)" class="sl" fill="#104a50">23</text>
<text transform="translate(98.5,283.6) scale(0.74,1)" class="sl" fill="#5a0a60">179</text>
<text transform="translate(98.5,274.2) scale(0.74,1)" class="sl" fill="#3a3012">141</text>
<text transform="translate(98.5,269.5) scale(0.74,1)" class="sl" fill="#4a2a30">20</text>
<text transform="translate(117.4,313.7) scale(0.74,1)" class="sl" fill="#5a1010">20</text>
<text transform="translate(117.4,307.2) scale(0.74,1)" class="sl" fill="#0e4a0e">204</text>
<text transform="translate(117.4,297.9) scale(0.74,1)" class="sl" fill="#10186a">113</text>
<text transform="translate(117.4,294.4) scale(0.74,1)" class="sl" fill="#4a4a10">6</text>
<text transform="translate(117.4,293.7) scale(0.74,1)" class="sl" fill="#104a50">18</text>
<text transform="translate(117.4,289.3) scale(0.74,1)" class="sl" fill="#5a0a60">133</text>
<text transform="translate(117.4,281.5) scale(0.74,1)" class="sl" fill="#3a3012">135</text>
<text transform="translate(117.4,277.0) scale(0.74,1)" class="sl" fill="#4a2a30">18</text>
<text transform="translate(136.3,313.9) scale(0.74,1)" class="sl" fill="#5a1010">14</text>
<text transform="translate(136.3,308.8) scale(0.74,1)" class="sl" fill="#0e4a0e">159</text>
<text transform="translate(136.3,301.7) scale(0.74,1)" class="sl" fill="#10186a">86</text>
<text transform="translate(136.3,299.0) scale(0.74,1)" class="sl" fill="#4a4a10">5</text>
<text transform="translate(136.3,298.5) scale(0.74,1)" class="sl" fill="#104a50">13</text>
<text transform="translate(136.3,293.9) scale(0.74,1)" class="sl" fill="#5a0a60">142</text>
<text transform="translate(136.3,286.9) scale(0.74,1)" class="sl" fill="#3a3012">100</text>
<text transform="translate(136.3,283.4) scale(0.74,1)" class="sl" fill="#4a2a30">17</text>
<text transform="translate(155.2,313.7) scale(0.74,1)" class="sl" fill="#5a1010">21</text>
<text transform="translate(155.2,307.7) scale(0.74,1)" class="sl" fill="#0e4a0e">184</text>
<text transform="translate(155.2,298.8) scale(0.74,1)" class="sl" fill="#10186a">120</text>
<text transform="translate(155.2,295.1) scale(0.74,1)" class="sl" fill="#4a4a10">6</text>
<text transform="translate(155.2,294.4) scale(0.74,1)" class="sl" fill="#104a50">17</text>
<text transform="translate(155.2,289.5) scale(0.74,1)" class="sl" fill="#5a0a60">153</text>
<text transform="translate(155.2,281.7) scale(0.74,1)" class="sl" fill="#3a3012">112</text>
<text transform="translate(155.2,278.0) scale(0.74,1)" class="sl" fill="#4a2a30">16</text>
<text transform="translate(174.1,313.7) scale(0.74,1)" class="sl" fill="#5a1010">21</text>
<text transform="translate(174.1,307.2) scale(0.74,1)" class="sl" fill="#0e4a0e">200</text>
<text transform="translate(174.1,297.3) scale(0.74,1)" class="sl" fill="#10186a">139</text>
<text transform="translate(174.1,292.9) scale(0.74,1)" class="sl" fill="#4a4a10">12</text>
<text transform="translate(174.1,291.8) scale(0.74,1)" class="sl" fill="#104a50">24</text>
<text transform="translate(174.1,285.9) scale(0.74,1)" class="sl" fill="#5a0a60">178</text>
<text transform="translate(174.1,276.3) scale(0.74,1)" class="sl" fill="#3a3012">150</text>
<text transform="translate(174.1,271.2) scale(0.74,1)" class="sl" fill="#4a2a30">25</text>
<text transform="translate(193.0,313.6) scale(0.74,1)" class="sl" fill="#5a1010">23</text>
<text transform="translate(193.0,307.7) scale(0.74,1)" class="sl" fill="#0e4a0e">178</text>
<text transform="translate(193.0,298.7) scale(0.74,1)" class="sl" fill="#10186a">130</text>
<text transform="translate(193.0,294.5) scale(0.74,1)" class="sl" fill="#4a4a10">16</text>
<text transform="translate(193.0,293.5) scale(0.74,1)" class="sl" fill="#104a50">17</text>
<text transform="translate(193.0,287.8) scale(0.74,1)" class="sl" fill="#5a0a60">179</text>
<text transform="translate(193.0,274.8) scale(0.74,1)" class="sl" fill="#3a3012">265</text>
<text transform="translate(193.0,266.4) scale(0.74,1)" class="sl" fill="#4a2a30">20</text>
<text transform="translate(211.9,313.3) scale(0.74,1)" class="sl" fill="#5a1010">35</text>
<text transform="translate(211.9,306.9) scale(0.74,1)" class="sl" fill="#0e4a0e">183</text>
<text transform="translate(211.9,297.0) scale(0.74,1)" class="sl" fill="#10186a">157</text>
<text transform="translate(211.9,291.9) scale(0.74,1)" class="sl" fill="#4a4a10">15</text>
<text transform="translate(211.9,291.0) scale(0.74,1)" class="sl" fill="#104a50">16</text>
<text transform="translate(211.9,286.0) scale(0.74,1)" class="sl" fill="#5a0a60">156</text>
<text transform="translate(211.9,273.0) scale(0.74,1)" class="sl" fill="#3a3012">287</text>
<text transform="translate(211.9,264.0) scale(0.74,1)" class="sl" fill="#4a2a30">20</text>
<text transform="translate(230.8,313.4) scale(0.74,1)" class="sl" fill="#5a1010">31</text>
<text transform="translate(230.8,307.7) scale(0.74,1)" class="sl" fill="#0e4a0e">164</text>
<text transform="translate(230.8,299.0) scale(0.74,1)" class="sl" fill="#10186a">132</text>
<text transform="translate(230.8,294.9) scale(0.74,1)" class="sl" fill="#4a4a10">10</text>
<text transform="translate(230.8,294.0) scale(0.74,1)" class="sl" fill="#104a50">19</text>
<text transform="translate(230.8,288.7) scale(0.74,1)" class="sl" fill="#5a0a60">162</text>
<text transform="translate(230.8,277.6) scale(0.74,1)" class="sl" fill="#3a3012">218</text>
<text transform="translate(230.8,270.7) scale(0.74,1)" class="sl" fill="#4a2a30">17</text>
<text transform="translate(249.7,313.8) scale(0.74,1)" class="sl" fill="#5a1010">16</text>
<text transform="translate(249.7,307.3) scale(0.74,1)" class="sl" fill="#0e4a0e">209</text>
<text transform="translate(249.7,296.6) scale(0.74,1)" class="sl" fill="#10186a">155</text>
<text transform="translate(249.7,291.8) scale(0.74,1)" class="sl" fill="#4a4a10">9</text>
<text transform="translate(249.7,291.0) scale(0.74,1)" class="sl" fill="#104a50">20</text>
<text transform="translate(249.7,284.2) scale(0.74,1)" class="sl" fill="#5a0a60">210</text>
<text transform="translate(249.7,269.0) scale(0.74,1)" class="sl" fill="#3a3012">312</text>
<text transform="translate(249.7,258.8) scale(0.74,1)" class="sl" fill="#4a2a30">35</text>
<text transform="translate(268.6,313.9) scale(0.74,1)" class="sl" fill="#5a1010">14</text>
<text transform="translate(268.6,306.7) scale(0.74,1)" class="sl" fill="#0e4a0e">233</text>
<text transform="translate(268.6,293.8) scale(0.74,1)" class="sl" fill="#10186a">206</text>
<text transform="translate(268.6,287.4) scale(0.74,1)" class="sl" fill="#4a4a10">12</text>
<text transform="translate(268.6,286.5) scale(0.74,1)" class="sl" fill="#104a50">21</text>
<text transform="translate(268.6,279.1) scale(0.74,1)" class="sl" fill="#5a0a60">232</text>
<text transform="translate(268.6,260.3) scale(0.74,1)" class="sl" fill="#3a3012">409</text>
<text transform="translate(268.6,247.5) scale(0.74,1)" class="sl" fill="#4a2a30">30</text>
<text transform="translate(287.5,313.7) scale(0.74,1)" class="sl" fill="#5a1010">21</text>
<text transform="translate(287.5,306.3) scale(0.74,1)" class="sl" fill="#0e4a0e">231</text>
<text transform="translate(287.5,294.2) scale(0.74,1)" class="sl" fill="#10186a">182</text>
<text transform="translate(287.5,288.4) scale(0.74,1)" class="sl" fill="#4a4a10">16</text>
<text transform="translate(287.5,287.4) scale(0.74,1)" class="sl" fill="#104a50">19</text>
<text transform="translate(287.5,279.9) scale(0.74,1)" class="sl" fill="#5a0a60">238</text>
<text transform="translate(287.5,257.2) scale(0.74,1)" class="sl" fill="#3a3012">539</text>
<text transform="translate(287.5,240.4) scale(0.74,1)" class="sl" fill="#4a2a30">35</text>
<text transform="translate(306.4,313.7) scale(0.74,1)" class="sl" fill="#5a1010">22</text>
<text transform="translate(306.4,305.6) scale(0.74,1)" class="sl" fill="#0e4a0e">254</text>
<text transform="translate(306.4,293.7) scale(0.74,1)" class="sl" fill="#10186a">151</text>
<text transform="translate(306.4,289.0) scale(0.74,1)" class="sl" fill="#4a4a10">11</text>
<text transform="translate(306.4,288.1) scale(0.74,1)" class="sl" fill="#104a50">20</text>
<text transform="translate(306.4,281.3) scale(0.74,1)" class="sl" fill="#5a0a60">213</text>
<text transform="translate(306.4,257.8) scale(0.74,1)" class="sl" fill="#3a3012">589</text>
<text transform="translate(306.4,239.1) scale(0.74,1)" class="sl" fill="#4a2a30">51</text>
<text transform="translate(325.3,313.5) scale(0.74,1)" class="sl" fill="#5a1010">28</text>
<text transform="translate(325.3,303.5) scale(0.74,1)" class="sl" fill="#0e4a0e">312</text>
<text transform="translate(325.3,289.6) scale(0.74,1)" class="sl" fill="#10186a">164</text>
<text transform="translate(325.3,284.4) scale(0.74,1)" class="sl" fill="#4a4a10">15</text>
<text transform="translate(325.3,283.5) scale(0.74,1)" class="sl" fill="#104a50">16</text>
<text transform="translate(325.3,277.0) scale(0.74,1)" class="sl" fill="#5a0a60">204</text>
<text transform="translate(325.3,252.8) scale(0.74,1)" class="sl" fill="#3a3012">626</text>
<text transform="translate(325.3,233.9) scale(0.74,1)" class="sl" fill="#4a2a30">20</text>
<text transform="translate(344.2,313.4) scale(0.74,1)" class="sl" fill="#5a1010">30</text>
<text transform="translate(344.2,303.5) scale(0.74,1)" class="sl" fill="#0e4a0e">308</text>
<text transform="translate(344.2,290.9) scale(0.74,1)" class="sl" fill="#10186a">124</text>
<text transform="translate(344.2,286.8) scale(0.74,1)" class="sl" fill="#4a4a10">17</text>
<text transform="translate(344.2,285.8) scale(0.74,1)" class="sl" fill="#104a50">17</text>
<text transform="translate(344.2,281.0) scale(0.74,1)" class="sl" fill="#5a0a60">145</text>
<text transform="translate(344.2,264.2) scale(0.74,1)" class="sl" fill="#3a3012">432</text>
<text transform="translate(344.2,250.5) scale(0.74,1)" class="sl" fill="#4a2a30">36</text>
<text transform="translate(363.1,313.2) scale(0.74,1)" class="sl" fill="#5a1010">36</text>
<text transform="translate(363.1,303.9) scale(0.74,1)" class="sl" fill="#0e4a0e">284</text>
<text transform="translate(363.1,291.6) scale(0.74,1)" class="sl" fill="#10186a">135</text>
<text transform="translate(363.1,287.3) scale(0.74,1)" class="sl" fill="#4a4a10">13</text>
<text transform="translate(363.1,286.4) scale(0.74,1)" class="sl" fill="#104a50">18</text>
<text transform="translate(363.1,281.0) scale(0.74,1)" class="sl" fill="#5a0a60">166</text>
<text transform="translate(363.1,265.0) scale(0.74,1)" class="sl" fill="#3a3012">381</text>
<text transform="translate(363.1,253.3) scale(0.74,1)" class="sl" fill="#4a2a30">19</text>
<text transform="translate(382.0,313.3) scale(0.74,1)" class="sl" fill="#5a1010">35</text>
<text transform="translate(382.0,304.3) scale(0.74,1)" class="sl" fill="#0e4a0e">272</text>
<text transform="translate(382.0,291.0) scale(0.74,1)" class="sl" fill="#10186a">183</text>
<text transform="translate(382.0,285.3) scale(0.74,1)" class="sl" fill="#4a4a10">12</text>
<text transform="translate(382.0,284.4) scale(0.74,1)" class="sl" fill="#104a50">18</text>
<text transform="translate(382.0,278.4) scale(0.74,1)" class="sl" fill="#5a0a60">189</text>
<text transform="translate(382.0,254.4) scale(0.74,1)" class="sl" fill="#3a3012">630</text>
<text transform="translate(382.0,234.5) scale(0.74,1)" class="sl" fill="#4a2a30">50</text>
<text transform="translate(400.9,313.3) scale(0.74,1)" class="sl" fill="#5a1010">34</text>
<text transform="translate(400.9,302.7) scale(0.74,1)" class="sl" fill="#0e4a0e">330</text>
<text transform="translate(400.9,287.8) scale(0.74,1)" class="sl" fill="#10186a">179</text>
<text transform="translate(400.9,282.4) scale(0.74,1)" class="sl" fill="#4a4a10">6</text>
<text transform="translate(400.9,281.7) scale(0.74,1)" class="sl" fill="#104a50">17</text>
<text transform="translate(400.9,274.8) scale(0.74,1)" class="sl" fill="#5a0a60">219</text>
<text transform="translate(400.9,248.0) scale(0.74,1)" class="sl" fill="#3a3012">697</text>
<text transform="translate(400.9,227.4) scale(0.74,1)" class="sl" fill="#4a2a30">7</text>
<text transform="translate(419.8,312.7) scale(0.74,1)" class="sl" fill="#5a1010">55</text>
<text transform="translate(419.8,301.9) scale(0.74,1)" class="sl" fill="#0e4a0e">315</text>
<text transform="translate(419.8,286.2) scale(0.74,1)" class="sl" fill="#10186a">219</text>
<text transform="translate(419.8,279.5) scale(0.74,1)" class="sl" fill="#4a4a10">11</text>
<text transform="translate(419.8,278.6) scale(0.74,1)" class="sl" fill="#104a50">20</text>
<text transform="translate(419.8,271.0) scale(0.74,1)" class="sl" fill="#5a0a60">239</text>
<text transform="translate(419.8,244.9) scale(0.74,1)" class="sl" fill="#3a3012">653</text>
<text transform="translate(419.8,225.8) scale(0.74,1)" class="sl" fill="#4a2a30">3</text>
<text transform="translate(438.7,313.1) scale(0.74,1)" class="sl" fill="#5a1010">42</text>
<text transform="translate(438.7,300.8) scale(0.74,1)" class="sl" fill="#0e4a0e">377</text>
<text transform="translate(438.7,283.8) scale(0.74,1)" class="sl" fill="#10186a">204</text>
<text transform="translate(438.7,277.6) scale(0.74,1)" class="sl" fill="#4a4a10">7</text>
<text transform="translate(438.7,276.9) scale(0.74,1)" class="sl" fill="#104a50">19</text>
<text transform="translate(438.7,269.3) scale(0.74,1)" class="sl" fill="#5a0a60">241</text>
<text transform="translate(438.7,239.9) scale(0.74,1)" class="sl" fill="#3a3012">765</text>
<text transform="translate(438.7,217.5) scale(0.74,1)" class="sl" fill="#4a2a30">1</text>
<text transform="translate(457.6,313.2) scale(0.74,1)" class="sl" fill="#5a1010">37</text>
<text transform="translate(457.6,301.7) scale(0.74,1)" class="sl" fill="#0e4a0e">358</text>
<text transform="translate(457.6,285.9) scale(0.74,1)" class="sl" fill="#10186a">182</text>
<text transform="translate(457.6,280.3) scale(0.74,1)" class="sl" fill="#4a4a10">7</text>
<text transform="translate(457.6,279.6) scale(0.74,1)" class="sl" fill="#104a50">17</text>
<text transform="translate(457.6,272.3) scale(0.74,1)" class="sl" fill="#5a0a60">233</text>
<text transform="translate(457.6,243.2) scale(0.74,1)" class="sl" fill="#3a3012">763</text>
<text transform="translate(457.6,220.8) scale(0.74,1)" class="sl" fill="#4a2a30">1</text>
<text transform="translate(476.5,312.8) scale(0.74,1)" class="sl" fill="#5a1010">51</text>
<text transform="translate(476.5,301.8) scale(0.74,1)" class="sl" fill="#0e4a0e">327</text>
<text transform="translate(476.5,285.7) scale(0.74,1)" class="sl" fill="#10186a">221</text>
<text transform="translate(476.5,278.9) scale(0.74,1)" class="sl" fill="#4a4a10">12</text>
<text transform="translate(476.5,278.0) scale(0.74,1)" class="sl" fill="#104a50">20</text>
<text transform="translate(476.5,270.0) scale(0.74,1)" class="sl" fill="#5a0a60">251</text>
<text transform="translate(476.5,243.7) scale(0.74,1)" class="sl" fill="#3a3012">650</text>
<text transform="translate(476.5,224.7) scale(0.74,1)" class="sl">0</text>
<text transform="translate(495.4,312.3) scale(0.74,1)" class="sl" fill="#5a1010">70</text>
<text transform="translate(495.4,301.4) scale(0.74,1)" class="sl" fill="#0e4a0e">302</text>
<text transform="translate(495.4,285.4) scale(0.74,1)" class="sl" fill="#10186a">243</text>
<text transform="translate(495.4,277.9) scale(0.74,1)" class="sl" fill="#4a4a10">16</text>
<text transform="translate(495.4,276.7) scale(0.74,1)" class="sl" fill="#104a50">22</text>
<text transform="translate(495.4,268.9) scale(0.74,1)" class="sl" fill="#5a0a60">245</text>
<text transform="translate(495.4,244.6) scale(0.74,1)" class="sl" fill="#3a3012">588</text>
<text transform="translate(495.4,227.2) scale(0.74,1)" class="sl" fill="#4a2a30">6</text>
<text transform="translate(514.3,312.2) scale(0.74,1)" class="sl" fill="#5a1010">72</text>
<text transform="translate(514.3,302.5) scale(0.74,1)" class="sl" fill="#0e4a0e">261</text>
<text transform="translate(514.3,287.3) scale(0.74,1)" class="sl" fill="#10186a">257</text>
<text transform="translate(514.3,279.6) scale(0.74,1)" class="sl" fill="#4a4a10">8</text>
<text transform="translate(514.3,278.6) scale(0.74,1)" class="sl" fill="#104a50">23</text>
<text transform="translate(514.3,271.2) scale(0.74,1)" class="sl" fill="#5a0a60">231</text>
<text transform="translate(514.3,248.5) scale(0.74,1)" class="sl" fill="#3a3012">547</text>
<text transform="translate(514.3,232.3) scale(0.74,1)" class="sl" fill="#4a2a30">6</text>
<text transform="translate(533.2,312.2) scale(0.74,1)" class="sl" fill="#5a1010">72</text>
<text transform="translate(533.2,302.5) scale(0.74,1)" class="sl" fill="#0e4a0e">258</text>
<text transform="translate(533.2,287.9) scale(0.74,1)" class="sl" fill="#10186a">242</text>
<text transform="translate(533.2,280.6) scale(0.74,1)" class="sl" fill="#4a4a10">8</text>
<text transform="translate(533.2,279.5) scale(0.74,1)" class="sl" fill="#104a50">30</text>
<text transform="translate(533.2,272.2) scale(0.74,1)" class="sl" fill="#5a0a60">221</text>
<text transform="translate(533.2,249.1) scale(0.74,1)" class="sl" fill="#3a3012">567</text>
<text transform="translate(533.2,232.3) scale(0.74,1)" class="sl" fill="#4a2a30">6</text>
<text transform="translate(552.1,312.2) scale(0.74,1)" class="sl" fill="#5a1010">72</text>
<text transform="translate(552.1,303.2) scale(0.74,1)" class="sl" fill="#0e4a0e">235</text>
<text transform="translate(552.1,289.7) scale(0.74,1)" class="sl" fill="#10186a">228</text>
<text transform="translate(552.1,282.7) scale(0.74,1)" class="sl" fill="#4a4a10">10</text>
<text transform="translate(552.1,281.9) scale(0.74,1)" class="sl" fill="#104a50">17</text>
<text transform="translate(552.1,274.9) scale(0.74,1)" class="sl" fill="#5a0a60">223</text>
<text transform="translate(552.1,251.4) scale(0.74,1)" class="sl" fill="#3a3012">582</text>
<text transform="translate(552.1,234.3) scale(0.74,1)" class="sl">0</text>
<text transform="translate(571.0,312.3) scale(0.74,1)" class="sl" fill="#5a1010">69</text>
<text transform="translate(571.0,303.5) scale(0.74,1)" class="sl" fill="#0e4a0e">230</text>
<text transform="translate(571.0,289.6) scale(0.74,1)" class="sl" fill="#10186a">248</text>
<text transform="translate(571.0,282.1) scale(0.74,1)" class="sl" fill="#4a4a10">6</text>
<text transform="translate(571.0,281.4) scale(0.74,1)" class="sl" fill="#104a50">19</text>
<text transform="translate(571.0,274.1) scale(0.74,1)" class="sl" fill="#5a0a60">230</text>
<text transform="translate(571.0,250.7) scale(0.74,1)" class="sl" fill="#3a3012">571</text>
<text transform="translate(571.0,234.0) scale(0.74,1)" class="sl">0</text>
<text transform="translate(589.9,312.5) scale(0.74,1)" class="sl" fill="#5a1010">63</text>
<text transform="translate(589.9,303.7) scale(0.74,1)" class="sl" fill="#0e4a0e">238</text>
<text transform="translate(589.9,289.3) scale(0.74,1)" class="sl" fill="#10186a">253</text>
<text transform="translate(589.9,281.7) scale(0.74,1)" class="sl" fill="#4a4a10">7</text>
<text transform="translate(589.9,280.9) scale(0.74,1)" class="sl" fill="#104a50">19</text>
<text transform="translate(589.9,273.5) scale(0.74,1)" class="sl" fill="#5a0a60">235</text>
<text transform="translate(589.9,250.2) scale(0.74,1)" class="sl" fill="#3a3012">561</text>
<text transform="translate(589.9,233.8) scale(0.74,1)" class="sl">0</text>
<polyline points="98.5,265.7 117.4,273.3 136.3,279.7 155.2,274.3 174.1,267.3 193.0,262.7 211.9,260.3 230.8,267.0 249.7,254.6 268.6,243.4 287.5,236.2 306.4,234.4 325.3,230.1 344.2,246.2 363.1,249.6 382.0,229.8 400.9,224.0 419.8,222.5 438.7,214.2 457.6,217.6 476.5,221.5 495.4,223.8 514.3,228.9 533.2,229.0 552.1,231.1 571.0,230.8 589.9,230.6" fill="none" stroke="#84e8aa" stroke-width="2.8" stroke-linejoin="round" stroke-opacity="0.92"/>
<text transform="translate(98.5,259.2) scale(0.6,1)" class="tl">776</text>
<text transform="translate(117.4,266.8) scale(0.6,1)" class="tl">647</text>
<text transform="translate(136.3,291.7) scale(0.6,1)" class="tl">536</text>
<text transform="translate(155.2,267.8) scale(0.6,1)" class="tl">629</text>
<text transform="translate(174.1,260.8) scale(0.6,1)" class="tl">749</text>
<text transform="translate(193.0,256.2) scale(0.6,1)" class="tl">828</text>
<text transform="translate(211.9,253.8) scale(0.6,1)" class="tl">869</text>
<text transform="translate(230.8,279.0) scale(0.6,1)" class="tl">753</text>
<text transform="translate(249.7,248.1) scale(0.6,1)" class="tl">966</text>
<text transform="translate(268.6,236.9) scale(0.6,1)" class="tl">1157</text>
<text transform="translate(287.5,229.7) scale(0.6,1)" class="tl">1281</text>
<text transform="translate(306.4,227.9) scale(0.6,1)" class="tl">1311</text>
<text transform="translate(325.3,223.6) scale(0.6,1)" class="tl">1385</text>
<text transform="translate(344.2,239.7) scale(0.6,1)" class="tl">1109</text>
<text transform="translate(363.1,261.6) scale(0.6,1)" class="tl">1052</text>
<text transform="translate(382.0,223.3) scale(0.6,1)" class="tl">1389</text>
<text transform="translate(400.9,217.5) scale(0.6,1)" class="tl">1489</text>
<text transform="translate(419.8,216.0) scale(0.6,1)" class="tl">1515</text>
<text transform="translate(438.7,207.7) scale(0.6,1)" class="tl">1656</text>
<text transform="translate(457.6,211.1) scale(0.6,1)" class="tl">1598</text>
<text transform="translate(476.5,215.0) scale(0.6,1)" class="tl">1532</text>
<text transform="translate(495.4,217.3) scale(0.6,1)" class="tl">1492</text>
<text transform="translate(514.3,222.4) scale(0.6,1)" class="tl">1405</text>
<text transform="translate(533.2,222.5) scale(0.6,1)" class="tl">1404</text>
<text transform="translate(552.1,243.1) scale(0.6,1)" class="tl">1367</text>
<text transform="translate(571.0,224.3) scale(0.6,1)" class="tl">1373</text>
<text transform="translate(589.9,224.1) scale(0.6,1)" class="tl">1376</text>
<text transform="translate(96.4,318.8) scale(0.78,1) rotate(90)" class="xl">10/05</text>
<text transform="translate(115.3,318.8) scale(0.78,1) rotate(90)" class="xl">10/06</text>
<text transform="translate(134.2,318.8) scale(0.78,1) rotate(90)" class="xl">10/07</text>
<text transform="translate(153.1,318.8) scale(0.78,1) rotate(90)" class="xl">10/08</text>
<text transform="translate(172.0,318.8) scale(0.78,1) rotate(90)" class="xl">10/09</text>
<text transform="translate(190.9,318.8) scale(0.78,1) rotate(90)" class="xl">10/10</text>
<text transform="translate(209.8,318.8) scale(0.78,1) rotate(90)" class="xl">10/11</text>
<text transform="translate(228.7,318.8) scale(0.78,1) rotate(90)" class="xl">10/12</text>
<text transform="translate(247.6,318.8) scale(0.78,1) rotate(90)" class="xl">11/01</text>
<text transform="translate(266.5,318.8) scale(0.78,1) rotate(90)" class="xl">11/02</text>
<text transform="translate(285.4,318.8) scale(0.78,1) rotate(90)" class="xl">11/03</text>
<text transform="translate(304.3,318.8) scale(0.78,1) rotate(90)" class="xl">11/04</text>
<text transform="translate(323.2,318.8) scale(0.78,1) rotate(90)" class="xl">11/05</text>
<text transform="translate(342.1,318.8) scale(0.78,1) rotate(90)" class="xl">11/06</text>
<text transform="translate(361.0,318.8) scale(0.78,1) rotate(90)" class="xl">11/07</text>
<text transform="translate(379.9,318.8) scale(0.78,1) rotate(90)" class="xl">11/08</text>
<text transform="translate(398.8,318.8) scale(0.78,1) rotate(90)" class="xl">11/09</text>
<text transform="translate(417.7,318.8) scale(0.78,1) rotate(90)" class="xl">11/10</text>
<text transform="translate(436.6,318.8) scale(0.78,1) rotate(90)" class="xl xw">WK 39, 2011</text>
<text transform="translate(455.5,318.8) scale(0.78,1) rotate(90)" class="xl xw">WK 40, 2011</text>
<text transform="translate(474.4,318.8) scale(0.78,1) rotate(90)" class="xl xw">WK 41, 2011</text>
<text transform="translate(493.3,318.8) scale(0.78,1) rotate(90)" class="xl xw">WK 42, 2011</text>
<text transform="translate(512.2,318.8) scale(0.78,1) rotate(90)" class="xl">2011/10/23</text>
<text transform="translate(531.1,318.8) scale(0.78,1) rotate(90)" class="xl">2011/10/24</text>
<text transform="translate(550.0,318.8) scale(0.78,1) rotate(90)" class="xl">2011/10/25</text>
<text transform="translate(568.9,318.8) scale(0.78,1) rotate(90)" class="xl">2011/10/26</text>
<text transform="translate(587.8,318.8) scale(0.78,1) rotate(90)" class="xl">2011/10/27</text>
</svg>
<div class="ctitle">未結工單總筆數 趨勢圖</div>
<div class="lg" style="left:46px;top:386px"><b class="ln" style="background:#7ee6a4"></b><span>Total||<em>未結工單筆數</em></span></div>
<div class="lg" style="left:140px;top:386px"><b class="sw" style="background:#b4a474"></b><span>W<i class="rdi" style="width:9px"></i>||<em>未結工單筆數</em></span></div>
<div class="lg" style="left:233px;top:386px"><b class="sw" style="background:#70f0f8"></b><span>sample_line||<em>未結工單筆數</em></span></div>
<div class="lg" style="left:352px;top:386px"><b class="sw" style="background:#5060e8"></b><span><i class="rdi" style="width:11px"></i>||<em>未結工單筆數</em></span></div>
<div class="lg" style="left:445px;top:386px"><b class="sw" style="background:#e06666"></b><span>(<i class="rdi" style="width:10px"></i>|<em>未結工單筆數</em></span></div>
<div class="lg" style="left:46px;top:397px"><b class="sw" style="background:#d0a0a8"></b><span>W/H||<em>未結工單筆數</em></span></div>
<div class="lg" style="left:140px;top:397px"><b class="sw" style="background:#e060f0"></b><span><i class="rdi" style="width:10px"></i>||<em>未結工單筆數</em></span></div>
<div class="lg" style="left:233px;top:397px"><b class="sw" style="background:#e8f060"></b><span><i class="rdi" style="width:10px"></i>||<em>未結工單筆數</em></span></div>
<div class="lg" style="left:352px;top:397px"><b class="sw" style="background:#90ee90"></b><span>(<i class="rdi" style="width:9px"></i>||<em>未結工單筆數</em></span></div>

<div class="tbl">
<div class="h" style="left:23.0px;width:49.0px"><span>LOB</span></div>
<div class="h" style="left:72.0px;width:46.0px"><span>KPI</span></div>
<div class="h" style="left:118.0px;width:32.0px"><span>ITEM</span></div>
<div class="h" style="left:150.0px;width:30.0px"><span>10/05</span></div>
<div class="h" style="left:180.0px;width:29.0px"><span>10/06</span></div>
<div class="h" style="left:209.0px;width:29.0px"><span>10/07</span></div>
<div class="h" style="left:238.0px;width:30.0px"><span>10/08</span></div>
<div class="h" style="left:268.0px;width:29.0px"><span>10/09</span></div>
<div class="h" style="left:297.0px;width:29.0px"><span>10/10</span></div>
<div class="h" style="left:326.0px;width:30.0px"><span>10/11</span></div>
<div class="h" style="left:356.0px;width:29.0px"><span>10/12</span></div>
<div class="h" style="left:385.0px;width:29.0px"><span>11/01</span></div>
<div class="h" style="left:414.0px;width:30.0px"><span>11/02</span></div>
<div class="h" style="left:444.0px;width:29.0px"><span>11/03</span></div>
<div class="h" style="left:473.0px;width:29.0px"><span>11/04</span></div>
<div class="h" style="left:502.0px;width:29.0px"><span>11/05</span></div>
<div class="h" style="left:531.0px;width:30.0px"><span>11/06</span></div>
<div class="h" style="left:561.0px;width:29.0px"><span>11/07</span></div>
<div class="h" style="left:590.0px;width:29.0px"><span>11/08</span></div>
<div class="h" style="left:619.0px;width:30.0px"><span>11/09</span></div>
<div class="h" style="left:649.0px;width:21.0px"><span>11/10</span></div>
<div class="h wk" style="left:670.0px;width:41.0px"><span>WK 39, 2011</span></div>
<div class="h wk" style="left:711.0px;width:42.0px"><span>WK 40, 2011</span></div>
<div class="h wk" style="left:753.0px;width:41.0px"><span>WK 41, 2011</span></div>
<div class="h wk" style="left:794.0px;width:41.0px"><span>WK 42, 2011</span></div>
<div class="h" style="left:835.0px;width:39.0px"><span>2011/10/23</span></div>
<div class="h" style="left:874.0px;width:39.0px"><span>2011/10/24</span></div>
<div class="h" style="left:913.0px;width:40.0px"><span>2011/10/25</span></div>
<div class="h" style="left:953.0px;width:39.0px"><span>2011/10/26</span></div>
<div class="h" style="left:992.0px;width:40.0px"><span>2011/10/27</span></div>
<div class="c it" style="left:118.0px;top:437.0px;width:32.0px;height:13.0px;background:#fff;color:#474747"><span>GOAL</span></div>
<div class="c" style="left:150.0px;top:437.0px;width:30.0px;height:13.0px;background:#fff;color:#474747"><span>0</span></div>
<div class="c" style="left:180.0px;top:437.0px;width:29.0px;height:13.0px;background:#fff;color:#474747"><span>11.00</span></div>
<div class="c" style="left:209.0px;top:437.0px;width:29.0px;height:13.0px;background:#fff;color:#474747"><span>11.00</span></div>
<div class="c" style="left:238.0px;top:437.0px;width:30.0px;height:13.0px;background:#fff;color:#474747"><span>22.00</span></div>
<div class="c" style="left:268.0px;top:437.0px;width:29.0px;height:13.0px;background:#fff;color:#474747"><span>22.00</span></div>
<div class="c" style="left:297.0px;top:437.0px;width:29.0px;height:13.0px;background:#fff;color:#474747"><span>22.00</span></div>
<div class="c" style="left:326.0px;top:437.0px;width:30.0px;height:13.0px;background:#fff;color:#474747"><span>22.00</span></div>
<div class="c" style="left:356.0px;top:437.0px;width:29.0px;height:13.0px;background:#fff;color:#474747"><span>24.12</span></div>
<div class="c" style="left:385.0px;top:437.0px;width:29.0px;height:13.0px;background:#fff;color:#474747"><span>6.77</span></div>
<div class="c" style="left:414.0px;top:437.0px;width:30.0px;height:13.0px;background:#fff;color:#474747"><span>6.77</span></div>
<div class="c" style="left:444.0px;top:437.0px;width:29.0px;height:13.0px;background:#fff;color:#474747"><span>6.77</span></div>
<div class="c" style="left:473.0px;top:437.0px;width:29.0px;height:13.0px;background:#fff;color:#474747"><span>6.80</span></div>
<div class="c" style="left:502.0px;top:437.0px;width:29.0px;height:13.0px;background:#fff;color:#474747"><span>7.12</span></div>
<div class="c" style="left:531.0px;top:437.0px;width:30.0px;height:13.0px;background:#fff;color:#474747"><span>8.54</span></div>
<div class="c" style="left:561.0px;top:437.0px;width:29.0px;height:13.0px;background:#fff;color:#474747"><span>6.51</span></div>
<div class="c" style="left:590.0px;top:437.0px;width:29.0px;height:13.0px;background:#fff;color:#474747"><span>6.15</span></div>
<div class="c" style="left:619.0px;top:437.0px;width:30.0px;height:13.0px;background:#fff;color:#474747"><span>6.15</span></div>
<div class="c" style="left:649.0px;top:437.0px;width:21.0px;height:13.0px;background:#fff;color:#474747"><span>0</span></div>
<div class="c" style="left:670.0px;top:437.0px;width:41.0px;height:13.0px;background:#fff;color:#474747"><span>6.15</span></div>
<div class="c" style="left:711.0px;top:437.0px;width:42.0px;height:13.0px;background:#fff;color:#474747"><span>0</span></div>
<div class="c" style="left:753.0px;top:437.0px;width:41.0px;height:13.0px;background:#fff;color:#474747"><span>0</span></div>
<div class="c" style="left:794.0px;top:437.0px;width:41.0px;height:13.0px;background:#fff;color:#474747"><span>0</span></div>
<div class="c" style="left:835.0px;top:437.0px;width:39.0px;height:13.0px;background:#fff;color:#474747"><span>0</span></div>
<div class="c" style="left:874.0px;top:437.0px;width:39.0px;height:13.0px;background:#fff;color:#474747"><span>0</span></div>
<div class="c" style="left:913.0px;top:437.0px;width:40.0px;height:13.0px;background:#fff;color:#474747"><span>0</span></div>
<div class="c" style="left:953.0px;top:437.0px;width:39.0px;height:13.0px;background:#fff;color:#474747"><span>0</span></div>
<div class="c" style="left:992.0px;top:437.0px;width:40.0px;height:13.0px;background:#fff;color:#474747"><span>0</span></div>
<div class="c it" style="left:118.0px;top:450.0px;width:32.0px;height:13.0px;background:#fff;color:#474747"><span>ACTUAL</span></div>
<div class="c" style="left:150.0px;top:450.0px;width:30.0px;height:13.0px;background:#ffb6c1;color:#8a2a48"><span>32</span></div>
<div class="c" style="left:180.0px;top:450.0px;width:29.0px;height:13.0px;background:#ffff00;color:#3a3a00"><span>20</span></div>
<div class="c" style="left:209.0px;top:450.0px;width:29.0px;height:13.0px;background:#ffff00;color:#3a3a00"><span>14</span></div>
<div class="c" style="left:238.0px;top:450.0px;width:30.0px;height:13.0px;background:#8fe88f;color:#145214"><span>21</span></div>
<div class="c" style="left:268.0px;top:450.0px;width:29.0px;height:13.0px;background:#8fe88f;color:#145214"><span>21</span></div>
<div class="c" style="left:297.0px;top:450.0px;width:29.0px;height:13.0px;background:#ffb6c1;color:#8a2a48"><span>23</span></div>
<div class="c" style="left:326.0px;top:450.0px;width:30.0px;height:13.0px;background:#ffb6c1;color:#8a2a48"><span>35</span></div>
<div class="c" style="left:356.0px;top:450.0px;width:29.0px;height:13.0px;background:#ffff00;color:#3a3a00"><span>31</span></div>
<div class="c" style="left:385.0px;top:450.0px;width:29.0px;height:13.0px;background:#ffff00;color:#3a3a00"><span>16</span></div>
<div class="c" style="left:414.0px;top:450.0px;width:30.0px;height:13.0px;background:#ffff00;color:#3a3a00"><span>14</span></div>
<div class="c" style="left:444.0px;top:450.0px;width:29.0px;height:13.0px;background:#ffb6c1;color:#8a2a48"><span>21</span></div>
<div class="c" style="left:473.0px;top:450.0px;width:29.0px;height:13.0px;background:#ffb6c1;color:#8a2a48"><span>22</span></div>
<div class="c" style="left:502.0px;top:450.0px;width:29.0px;height:13.0px;background:#ffb6c1;color:#8a2a48"><span>28</span></div>
<div class="c" style="left:531.0px;top:450.0px;width:30.0px;height:13.0px;background:#ffb6c1;color:#8a2a48"><span>30</span></div>
<div class="c" style="left:561.0px;top:450.0px;width:29.0px;height:13.0px;background:#ffb6c1;color:#8a2a48"><span>36</span></div>
<div class="c" style="left:590.0px;top:450.0px;width:29.0px;height:13.0px;background:#ffff00;color:#3a3a00"><span>35</span></div>
<div class="c" style="left:619.0px;top:450.0px;width:30.0px;height:13.0px;background:#ffff00;color:#3a3a00"><span>34</span></div>
<div class="c" style="left:649.0px;top:450.0px;width:21.0px;height:13.0px;background:#ffb6c1;color:#8a2a48"><span>55</span></div>
<div class="c" style="left:670.0px;top:450.0px;width:41.0px;height:13.0px;background:#ffff00;color:#3a3a00"><span>42</span></div>
<div class="c" style="left:711.0px;top:450.0px;width:42.0px;height:13.0px;background:#ffff00;color:#3a3a00"><span>37</span></div>
<div class="c" style="left:753.0px;top:450.0px;width:41.0px;height:13.0px;background:#ffb6c1;color:#8a2a48"><span>51</span></div>
<div class="c" style="left:794.0px;top:450.0px;width:41.0px;height:13.0px;background:#ffb6c1;color:#8a2a48"><span>70</span></div>
<div class="c" style="left:835.0px;top:450.0px;width:39.0px;height:13.0px;background:#ffb6c1;color:#8a2a48"><span>72</span></div>
<div class="c" style="left:874.0px;top:450.0px;width:39.0px;height:13.0px;background:#ffb6c1;color:#8a2a48"><span>72</span></div>
<div class="c" style="left:913.0px;top:450.0px;width:40.0px;height:13.0px;background:#ffb6c1;color:#8a2a48"><span>72</span></div>
<div class="c" style="left:953.0px;top:450.0px;width:39.0px;height:13.0px;background:#ffff00;color:#3a3a00"><span>69</span></div>
<div class="c" style="left:992.0px;top:450.0px;width:40.0px;height:13.0px;background:#ffff00;color:#3a3a00"><span>63</span></div>
<div class="c it" style="left:118.0px;top:463.0px;width:32.0px;height:14.0px;background:#fff;color:#474747"><span>GOAL</span></div>
<div class="c" style="left:150.0px;top:463.0px;width:30.0px;height:14.0px;background:#fff;color:#474747"><span>0</span></div>
<div class="c" style="left:180.0px;top:463.0px;width:29.0px;height:14.0px;background:#fff;color:#474747"><span>116.18</span></div>
<div class="c" style="left:209.0px;top:463.0px;width:29.0px;height:14.0px;background:#fff;color:#474747"><span>104.97</span></div>
<div class="c" style="left:238.0px;top:463.0px;width:30.0px;height:14.0px;background:#fff;color:#474747"><span>99.59</span></div>
<div class="c" style="left:268.0px;top:463.0px;width:29.0px;height:14.0px;background:#fff;color:#474747"><span>100.44</span></div>
<div class="c" style="left:297.0px;top:463.0px;width:29.0px;height:14.0px;background:#fff;color:#474747"><span>98.61</span></div>
<div class="c" style="left:326.0px;top:463.0px;width:30.0px;height:14.0px;background:#fff;color:#474747"><span>104.60</span></div>
<div class="c" style="left:356.0px;top:463.0px;width:29.0px;height:14.0px;background:#fff;color:#474747"><span>102.48</span></div>
<div class="c" style="left:385.0px;top:463.0px;width:29.0px;height:14.0px;background:#fff;color:#474747"><span>152.32</span></div>
<div class="c" style="left:414.0px;top:463.0px;width:30.0px;height:14.0px;background:#fff;color:#474747"><span>127.33</span></div>
<div class="c" style="left:444.0px;top:463.0px;width:29.0px;height:14.0px;background:#fff;color:#474747"><span>147.39</span></div>
<div class="c" style="left:473.0px;top:463.0px;width:29.0px;height:14.0px;background:#fff;color:#474747"><span>125.53</span></div>
<div class="c" style="left:502.0px;top:463.0px;width:29.0px;height:14.0px;background:#fff;color:#474747"><span>138.20</span></div>
<div class="c" style="left:531.0px;top:463.0px;width:30.0px;height:14.0px;background:#fff;color:#474747"><span>150.30</span></div>
<div class="c" style="left:561.0px;top:463.0px;width:29.0px;height:14.0px;background:#fff;color:#474747"><span>128.45</span></div>
<div class="c" style="left:590.0px;top:463.0px;width:29.0px;height:14.0px;background:#fff;color:#474747"><span>126.71</span></div>
<div class="c" style="left:619.0px;top:463.0px;width:30.0px;height:14.0px;background:#fff;color:#474747"><span>133.11</span></div>
<div class="c" style="left:649.0px;top:463.0px;width:21.0px;height:14.0px;background:#fff;color:#474747"><span>0</span></div>
<div class="c" style="left:670.0px;top:463.0px;width:41.0px;height:14.0px;background:#fff;color:#474747"><span>127.66</span></div>
<div class="c" style="left:711.0px;top:463.0px;width:42.0px;height:14.0px;background:#fff;color:#474747"><span>0</span></div>
<div class="c" style="left:753.0px;top:463.0px;width:41.0px;height:14.0px;background:#fff;color:#474747"><span>0</span></div>
<div class="c" style="left:794.0px;top:463.0px;width:41.0px;height:14.0px;background:#fff;color:#474747"><span>0</span></div>
<div class="c" style="left:835.0px;top:463.0px;width:39.0px;height:14.0px;background:#fff;color:#474747"><span>0</span></div>
<div class="c" style="left:874.0px;top:463.0px;width:39.0px;height:14.0px;background:#fff;color:#474747"><span>0</span></div>
<div class="c" style="left:913.0px;top:463.0px;width:40.0px;height:14.0px;background:#fff;color:#474747"><span>0</span></div>
<div class="c" style="left:953.0px;top:463.0px;width:39.0px;height:14.0px;background:#fff;color:#474747"><span>0</span></div>
<div class="c" style="left:992.0px;top:463.0px;width:40.0px;height:14.0px;background:#fff;color:#474747"><span>0</span></div>
<div class="c it" style="left:118.0px;top:477.0px;width:32.0px;height:13.0px;background:#fff;color:#474747"><span>ACTUAL</span></div>
<div class="c" style="left:150.0px;top:477.0px;width:30.0px;height:13.0px;background:#ffb6c1;color:#8a2a48"><span>255</span></div>
<div class="c" style="left:180.0px;top:477.0px;width:29.0px;height:13.0px;background:#ffff00;color:#3a3a00"><span>204</span></div>
<div class="c" style="left:209.0px;top:477.0px;width:29.0px;height:13.0px;background:#ffff00;color:#3a3a00"><span>159</span></div>
<div class="c" style="left:238.0px;top:477.0px;width:30.0px;height:13.0px;background:#ffb6c1;color:#8a2a48"><span>184</span></div>
<div class="c" style="left:268.0px;top:477.0px;width:29.0px;height:13.0px;background:#ffb6c1;color:#8a2a48"><span>200</span></div>
<div class="c" style="left:297.0px;top:477.0px;width:29.0px;height:13.0px;background:#ffff00;color:#3a3a00"><span>178</span></div>
<div class="c" style="left:326.0px;top:477.0px;width:30.0px;height:13.0px;background:#ffb6c1;color:#8a2a48"><span>183</span></div>
<div class="c" style="left:356.0px;top:477.0px;width:29.0px;height:13.0px;background:#ffff00;color:#3a3a00"><span>164</span></div>
<div class="c" style="left:385.0px;top:477.0px;width:29.0px;height:13.0px;background:#ffb6c1;color:#8a2a48"><span>209</span></div>
<div class="c" style="left:414.0px;top:477.0px;width:30.0px;height:13.0px;background:#ffb6c1;color:#8a2a48"><span>233</span></div>
<div class="c" style="left:444.0px;top:477.0px;width:29.0px;height:13.0px;background:#ffff00;color:#3a3a00"><span>231</span></div>
<div class="c" style="left:473.0px;top:477.0px;width:29.0px;height:13.0px;background:#ffb6c1;color:#8a2a48"><span>254</span></div>
<div class="c" style="left:502.0px;top:477.0px;width:29.0px;height:13.0px;background:#ffb6c1;color:#8a2a48"><span>312</span></div>
<div class="c" style="left:531.0px;top:477.0px;width:30.0px;height:13.0px;background:#ffff00;color:#3a3a00"><span>308</span></div>
<div class="c" style="left:561.0px;top:477.0px;width:29.0px;height:13.0px;background:#ffff00;color:#3a3a00"><span>284</span></div>
<div class="c" style="left:590.0px;top:477.0px;width:29.0px;height:13.0px;background:#ffff00;color:#3a3a00"><span>272</span></div>
<div class="c" style="left:619.0px;top:477.0px;width:30.0px;height:13.0px;background:#ffb6c1;color:#8a2a48"><span>330</span></div>
<div class="c" style="left:649.0px;top:477.0px;width:21.0px;height:13.0px;background:#ffff00;color:#3a3a00"><span>315</span></div>
<div class="c" style="left:670.0px;top:477.0px;width:41.0px;height:13.0px;background:#ffb6c1;color:#8a2a48"><span>377</span></div>
<div class="c" style="left:711.0px;top:477.0px;width:42.0px;height:13.0px;background:#ffff00;color:#3a3a00"><span>358</span></div>
<div class="c" style="left:753.0px;top:477.0px;width:41.0px;height:13.0px;background:#ffff00;color:#3a3a00"><span>327</span></div>
<div class="c" style="left:794.0px;top:477.0px;width:41.0px;height:13.0px;background:#ffff00;color:#3a3a00"><span>302</span></div>
<div class="c" style="left:835.0px;top:477.0px;width:39.0px;height:13.0px;background:#ffff00;color:#3a3a00"><span>261</span></div>
<div class="c" style="left:874.0px;top:477.0px;width:39.0px;height:13.0px;background:#ffff00;color:#3a3a00"><span>258</span></div>
<div class="c" style="left:913.0px;top:477.0px;width:40.0px;height:13.0px;background:#ffff00;color:#3a3a00"><span>235</span></div>
<div class="c" style="left:953.0px;top:477.0px;width:39.0px;height:13.0px;background:#ffff00;color:#3a3a00"><span>230</span></div>
<div class="c" style="left:992.0px;top:477.0px;width:40.0px;height:13.0px;background:#ffb6c1;color:#8a2a48"><span>238</span></div>
<div class="c it" style="left:118.0px;top:490.0px;width:32.0px;height:13.0px;background:#fff;color:#474747"><span>GOAL</span></div>
<div class="c" style="left:150.0px;top:490.0px;width:30.0px;height:13.0px;background:#fff;color:#474747"><span>0</span></div>
<div class="c" style="left:180.0px;top:490.0px;width:29.0px;height:13.0px;background:#fff;color:#474747"><span>107.96</span></div>
<div class="c" style="left:209.0px;top:490.0px;width:29.0px;height:13.0px;background:#fff;color:#474747"><span>93.27</span></div>
<div class="c" style="left:238.0px;top:490.0px;width:30.0px;height:13.0px;background:#fff;color:#474747"><span>122.76</span></div>
<div class="c" style="left:268.0px;top:490.0px;width:29.0px;height:13.0px;background:#fff;color:#474747"><span>122.27</span></div>
<div class="c" style="left:297.0px;top:490.0px;width:29.0px;height:13.0px;background:#fff;color:#474747"><span>115.55</span></div>
<div class="c" style="left:326.0px;top:490.0px;width:30.0px;height:13.0px;background:#fff;color:#474747"><span>123.95</span></div>
<div class="c" style="left:356.0px;top:490.0px;width:29.0px;height:13.0px;background:#fff;color:#474747"><span>127.71</span></div>
<div class="c" style="left:385.0px;top:490.0px;width:29.0px;height:13.0px;background:#fff;color:#474747"><span>138.63</span></div>
<div class="c" style="left:414.0px;top:490.0px;width:30.0px;height:13.0px;background:#fff;color:#474747"><span>143.74</span></div>
<div class="c" style="left:444.0px;top:490.0px;width:29.0px;height:13.0px;background:#fff;color:#474747"><span>152.68</span></div>
<div class="c" style="left:473.0px;top:490.0px;width:29.0px;height:13.0px;background:#fff;color:#474747"><span>139.61</span></div>
<div class="c" style="left:502.0px;top:490.0px;width:29.0px;height:13.0px;background:#fff;color:#474747"><span>130.96</span></div>
<div class="c" style="left:531.0px;top:490.0px;width:30.0px;height:13.0px;background:#fff;color:#474747"><span>124.97</span></div>
<div class="c" style="left:561.0px;top:490.0px;width:29.0px;height:13.0px;background:#fff;color:#474747"><span>112.15</span></div>
<div class="c" style="left:590.0px;top:490.0px;width:29.0px;height:13.0px;background:#fff;color:#474747"><span>124.80</span></div>
<div class="c" style="left:619.0px;top:490.0px;width:30.0px;height:13.0px;background:#fff;color:#474747"><span>121.42</span></div>
<div class="c" style="left:649.0px;top:490.0px;width:21.0px;height:13.0px;background:#fff;color:#474747"><span>0</span></div>
<div class="c" style="left:670.0px;top:490.0px;width:41.0px;height:13.0px;background:#fff;color:#474747"><span>113.34</span></div>
<div class="c" style="left:711.0px;top:490.0px;width:42.0px;height:13.0px;background:#fff;color:#474747"><span>0</span></div>
<div class="c" style="left:753.0px;top:490.0px;width:41.0px;height:13.0px;background:#fff;color:#474747"><span>0</span></div>
<div class="c" style="left:794.0px;top:490.0px;width:41.0px;height:13.0px;background:#fff;color:#474747"><span>0</span></div>
<div class="c" style="left:835.0px;top:490.0px;width:39.0px;height:13.0px;background:#fff;color:#474747"><span>0</span></div>
<div class="c" style="left:874.0px;top:490.0px;width:39.0px;height:13.0px;background:#fff;color:#474747"><span>0</span></div>
<div class="c" style="left:913.0px;top:490.0px;width:40.0px;height:13.0px;background:#fff;color:#474747"><span>0</span></div>
<div class="c" style="left:953.0px;top:490.0px;width:39.0px;height:13.0px;background:#fff;color:#474747"><span>0</span></div>
<div class="c" style="left:992.0px;top:490.0px;width:40.0px;height:13.0px;background:#fff;color:#474747"><span>0</span></div>
<div class="c it" style="left:118.0px;top:503.0px;width:32.0px;height:13.0px;background:#fff;color:#474747"><span>ACTUAL</span></div>
<div class="c" style="left:150.0px;top:503.0px;width:30.0px;height:13.0px;background:#ffb6c1;color:#8a2a48"><span>120</span></div>
<div class="c" style="left:180.0px;top:503.0px;width:29.0px;height:13.0px;background:#ffff00;color:#3a3a00"><span>113</span></div>
<div class="c" style="left:209.0px;top:503.0px;width:29.0px;height:13.0px;background:#8fe88f;color:#145214"><span>86</span></div>
<div class="c" style="left:238.0px;top:503.0px;width:30.0px;height:13.0px;background:#8fe88f;color:#145214"><span>120</span></div>
<div class="c" style="left:268.0px;top:503.0px;width:29.0px;height:13.0px;background:#ffb6c1;color:#8a2a48"><span>139</span></div>
<div class="c" style="left:297.0px;top:503.0px;width:29.0px;height:13.0px;background:#ffff00;color:#3a3a00"><span>130</span></div>
<div class="c" style="left:326.0px;top:503.0px;width:30.0px;height:13.0px;background:#ffb6c1;color:#8a2a48"><span>157</span></div>
<div class="c" style="left:356.0px;top:503.0px;width:29.0px;height:13.0px;background:#ffff00;color:#3a3a00"><span>132</span></div>
<div class="c" style="left:385.0px;top:503.0px;width:29.0px;height:13.0px;background:#ffb6c1;color:#8a2a48"><span>155</span></div>
<div class="c" style="left:414.0px;top:503.0px;width:30.0px;height:13.0px;background:#ffb6c1;color:#8a2a48"><span>206</span></div>
<div class="c" style="left:444.0px;top:503.0px;width:29.0px;height:13.0px;background:#ffff00;color:#3a3a00"><span>182</span></div>
<div class="c" style="left:473.0px;top:503.0px;width:29.0px;height:13.0px;background:#ffff00;color:#3a3a00"><span>151</span></div>
<div class="c" style="left:502.0px;top:503.0px;width:29.0px;height:13.0px;background:#ffb6c1;color:#8a2a48"><span>164</span></div>
<div class="c" style="left:531.0px;top:503.0px;width:30.0px;height:13.0px;background:#8fe88f;color:#145214"><span>124</span></div>
<div class="c" style="left:561.0px;top:503.0px;width:29.0px;height:13.0px;background:#ffb6c1;color:#8a2a48"><span>135</span></div>
<div class="c" style="left:590.0px;top:503.0px;width:29.0px;height:13.0px;background:#ffb6c1;color:#8a2a48"><span>183</span></div>
<div class="c" style="left:619.0px;top:503.0px;width:30.0px;height:13.0px;background:#ffff00;color:#3a3a00"><span>179</span></div>
<div class="c" style="left:649.0px;top:503.0px;width:21.0px;height:13.0px;background:#ffb6c1;color:#8a2a48"><span>219</span></div>
<div class="c" style="left:670.0px;top:503.0px;width:41.0px;height:13.0px;background:#ffff00;color:#3a3a00"><span>204</span></div>
<div class="c" style="left:711.0px;top:503.0px;width:42.0px;height:13.0px;background:#ffff00;color:#3a3a00"><span>182</span></div>
<div class="c" style="left:753.0px;top:503.0px;width:41.0px;height:13.0px;background:#ffb6c1;color:#8a2a48"><span>221</span></div>
<div class="c" style="left:794.0px;top:503.0px;width:41.0px;height:13.0px;background:#ffb6c1;color:#8a2a48"><span>243</span></div>
<div class="c" style="left:835.0px;top:503.0px;width:39.0px;height:13.0px;background:#ffb6c1;color:#8a2a48"><span>257</span></div>
<div class="c" style="left:874.0px;top:503.0px;width:39.0px;height:13.0px;background:#ffff00;color:#3a3a00"><span>242</span></div>
<div class="c" style="left:913.0px;top:503.0px;width:40.0px;height:13.0px;background:#ffff00;color:#3a3a00"><span>228</span></div>
<div class="c" style="left:953.0px;top:503.0px;width:39.0px;height:13.0px;background:#ffb6c1;color:#8a2a48"><span>248</span></div>
<div class="c" style="left:992.0px;top:503.0px;width:40.0px;height:13.0px;background:#ffb6c1;color:#8a2a48"><span>253</span></div>
<div class="c it" style="left:118.0px;top:516.0px;width:32.0px;height:14.0px;background:#fff;color:#474747"><span>GOAL</span></div>
<div class="c" style="left:150.0px;top:516.0px;width:30.0px;height:14.0px;background:#fff;color:#474747"><span>0</span></div>
<div class="c" style="left:180.0px;top:516.0px;width:29.0px;height:14.0px;background:#fff;color:#474747"><span>13.00</span></div>
<div class="c" style="left:209.0px;top:516.0px;width:29.0px;height:14.0px;background:#fff;color:#474747"><span>13.00</span></div>
<div class="c" style="left:238.0px;top:516.0px;width:30.0px;height:14.0px;background:#fff;color:#474747"><span>13.00</span></div>
<div class="c" style="left:268.0px;top:516.0px;width:29.0px;height:14.0px;background:#fff;color:#474747"><span>13.00</span></div>
<div class="c" style="left:297.0px;top:516.0px;width:29.0px;height:14.0px;background:#fff;color:#474747"><span>13.00</span></div>
<div class="c" style="left:326.0px;top:516.0px;width:30.0px;height:14.0px;background:#fff;color:#474747"><span>13.00</span></div>
<div class="c" style="left:356.0px;top:516.0px;width:29.0px;height:14.0px;background:#fff;color:#474747"><span>13.00</span></div>
<div class="c" style="left:385.0px;top:516.0px;width:29.0px;height:14.0px;background:#fff;color:#474747"><span>12.00</span></div>
<div class="c" style="left:414.0px;top:516.0px;width:30.0px;height:14.0px;background:#fff;color:#474747"><span>12.00</span></div>
<div class="c" style="left:444.0px;top:516.0px;width:29.0px;height:14.0px;background:#fff;color:#474747"><span>12.00</span></div>
<div class="c" style="left:473.0px;top:516.0px;width:29.0px;height:14.0px;background:#fff;color:#474747"><span>12.00</span></div>
<div class="c" style="left:502.0px;top:516.0px;width:29.0px;height:14.0px;background:#fff;color:#474747"><span>12.00</span></div>
<div class="c" style="left:531.0px;top:516.0px;width:30.0px;height:14.0px;background:#fff;color:#474747"><span>12.00</span></div>
<div class="c" style="left:561.0px;top:516.0px;width:29.0px;height:14.0px;background:#fff;color:#474747"><span>12.00</span></div>
<div class="c" style="left:590.0px;top:516.0px;width:29.0px;height:14.0px;background:#fff;color:#474747"><span>12.00</span></div>
<div class="c" style="left:619.0px;top:516.0px;width:30.0px;height:14.0px;background:#fff;color:#474747"><span>12.00</span></div>
<div class="c" style="left:649.0px;top:516.0px;width:21.0px;height:14.0px;background:#fff;color:#474747"><span>0</span></div>
<div class="c" style="left:670.0px;top:516.0px;width:41.0px;height:14.0px;background:#fff;color:#474747"><span>12.00</span></div>
<div class="c" style="left:711.0px;top:516.0px;width:42.0px;height:14.0px;background:#fff;color:#474747"><span>0</span></div>
<div class="c" style="left:753.0px;top:516.0px;width:41.0px;height:14.0px;background:#fff;color:#474747"><span>0</span></div>
<div class="c" style="left:794.0px;top:516.0px;width:41.0px;height:14.0px;background:#fff;color:#474747"><span>0</span></div>
<div class="c" style="left:835.0px;top:516.0px;width:39.0px;height:14.0px;background:#fff;color:#474747"><span>0</span></div>
<div class="c" style="left:874.0px;top:516.0px;width:39.0px;height:14.0px;background:#fff;color:#474747"><span>0</span></div>
<div class="c" style="left:913.0px;top:516.0px;width:40.0px;height:14.0px;background:#fff;color:#474747"><span>0</span></div>
<div class="c" style="left:953.0px;top:516.0px;width:39.0px;height:14.0px;background:#fff;color:#474747"><span>0</span></div>
<div class="c" style="left:992.0px;top:516.0px;width:40.0px;height:14.0px;background:#fff;color:#474747"><span>0</span></div>
<div class="c it" style="left:118.0px;top:530.0px;width:32.0px;height:13.0px;background:#fff;color:#474747"><span>ACTUAL</span></div>
<div class="c" style="left:150.0px;top:530.0px;width:30.0px;height:13.0px;background:#ffb6c1;color:#8a2a48"><span>6</span></div>
<div class="c" style="left:180.0px;top:530.0px;width:29.0px;height:13.0px;background:#8fe88f;color:#145214"><span>6</span></div>
<div class="c" style="left:209.0px;top:530.0px;width:29.0px;height:13.0px;background:#8fe88f;color:#145214"><span>5</span></div>
<div class="c" style="left:238.0px;top:530.0px;width:30.0px;height:13.0px;background:#8fe88f;color:#145214"><span>6</span></div>
<div class="c" style="left:268.0px;top:530.0px;width:29.0px;height:13.0px;background:#8fe88f;color:#145214"><span>12</span></div>
<div class="c" style="left:297.0px;top:530.0px;width:29.0px;height:13.0px;background:#ffb6c1;color:#8a2a48"><span>16</span></div>
<div class="c" style="left:326.0px;top:530.0px;width:30.0px;height:13.0px;background:#ffff00;color:#3a3a00"><span>15</span></div>
<div class="c" style="left:356.0px;top:530.0px;width:29.0px;height:13.0px;background:#8fe88f;color:#145214"><span>10</span></div>
<div class="c" style="left:385.0px;top:530.0px;width:29.0px;height:13.0px;background:#8fe88f;color:#145214"><span>9</span></div>
<div class="c" style="left:414.0px;top:530.0px;width:30.0px;height:13.0px;background:#8fe88f;color:#145214"><span>12</span></div>
<div class="c" style="left:444.0px;top:530.0px;width:29.0px;height:13.0px;background:#ffb6c1;color:#8a2a48"><span>16</span></div>
<div class="c" style="left:473.0px;top:530.0px;width:29.0px;height:13.0px;background:#8fe88f;color:#145214"><span>11</span></div>
<div class="c" style="left:502.0px;top:530.0px;width:29.0px;height:13.0px;background:#ffb6c1;color:#8a2a48"><span>15</span></div>
<div class="c" style="left:531.0px;top:530.0px;width:30.0px;height:13.0px;background:#ffb6c1;color:#8a2a48"><span>17</span></div>
<div class="c" style="left:561.0px;top:530.0px;width:29.0px;height:13.0px;background:#ffff00;color:#3a3a00"><span>13</span></div>
<div class="c" style="left:590.0px;top:530.0px;width:29.0px;height:13.0px;background:#8fe88f;color:#145214"><span>12</span></div>
<div class="c" style="left:619.0px;top:530.0px;width:30.0px;height:13.0px;background:#8fe88f;color:#145214"><span>6</span></div>
<div class="c" style="left:649.0px;top:530.0px;width:21.0px;height:13.0px;background:#ffb6c1;color:#8a2a48"><span>11</span></div>
<div class="c" style="left:670.0px;top:530.0px;width:41.0px;height:13.0px;background:#8fe88f;color:#145214"><span>7</span></div>
<div class="c" style="left:711.0px;top:530.0px;width:42.0px;height:13.0px;background:#ffb6c1;color:#8a2a48"><span>7</span></div>
<div class="c" style="left:753.0px;top:530.0px;width:41.0px;height:13.0px;background:#ffb6c1;color:#8a2a48"><span>12</span></div>
<div class="c" style="left:794.0px;top:530.0px;width:41.0px;height:13.0px;background:#ffb6c1;color:#8a2a48"><span>16</span></div>
<div class="c" style="left:835.0px;top:530.0px;width:39.0px;height:13.0px;background:#ffff00;color:#3a3a00"><span>8</span></div>
<div class="c" style="left:874.0px;top:530.0px;width:39.0px;height:13.0px;background:#ffb6c1;color:#8a2a48"><span>8</span></div>
<div class="c" style="left:913.0px;top:530.0px;width:40.0px;height:13.0px;background:#ffb6c1;color:#8a2a48"><span>10</span></div>
<div class="c" style="left:953.0px;top:530.0px;width:39.0px;height:13.0px;background:#ffff00;color:#3a3a00"><span>6</span></div>
<div class="c" style="left:992.0px;top:530.0px;width:40.0px;height:13.0px;background:#ffb6c1;color:#8a2a48"><span>7</span></div>
<div class="c it" style="left:118.0px;top:543.0px;width:32.0px;height:13.0px;background:#fff;color:#474747"><span>GOAL</span></div>
<div class="c" style="left:150.0px;top:543.0px;width:30.0px;height:13.0px;background:#fff;color:#474747"><span>0</span></div>
<div class="c" style="left:180.0px;top:543.0px;width:29.0px;height:13.0px;background:#fff;color:#474747"><span>11.00</span></div>
<div class="c" style="left:209.0px;top:543.0px;width:29.0px;height:13.0px;background:#fff;color:#474747"><span>11.00</span></div>
<div class="c" style="left:238.0px;top:543.0px;width:30.0px;height:13.0px;background:#fff;color:#474747"><span>11.00</span></div>
<div class="c" style="left:268.0px;top:543.0px;width:29.0px;height:13.0px;background:#fff;color:#474747"><span>11.00</span></div>
<div class="c" style="left:297.0px;top:543.0px;width:29.0px;height:13.0px;background:#fff;color:#474747"><span>11.00</span></div>
<div class="c" style="left:326.0px;top:543.0px;width:30.0px;height:13.0px;background:#fff;color:#474747"><span>11.00</span></div>
<div class="c" style="left:356.0px;top:543.0px;width:29.0px;height:13.0px;background:#fff;color:#474747"><span>11.00</span></div>
<div class="c" style="left:385.0px;top:543.0px;width:29.0px;height:13.0px;background:#fff;color:#474747"><span>21.00</span></div>
<div class="c" style="left:414.0px;top:543.0px;width:30.0px;height:13.0px;background:#fff;color:#474747"><span>21.00</span></div>
<div class="c" style="left:444.0px;top:543.0px;width:29.0px;height:13.0px;background:#fff;color:#474747"><span>21.00</span></div>
<div class="c" style="left:473.0px;top:543.0px;width:29.0px;height:13.0px;background:#fff;color:#474747"><span>18.00</span></div>
<div class="c" style="left:502.0px;top:543.0px;width:29.0px;height:13.0px;background:#fff;color:#474747"><span>18.00</span></div>
<div class="c" style="left:531.0px;top:543.0px;width:30.0px;height:13.0px;background:#fff;color:#474747"><span>18.00</span></div>
<div class="c" style="left:561.0px;top:543.0px;width:29.0px;height:13.0px;background:#fff;color:#474747"><span>18.00</span></div>
<div class="c" style="left:590.0px;top:543.0px;width:29.0px;height:13.0px;background:#fff;color:#474747"><span>18.00</span></div>
<div class="c" style="left:619.0px;top:543.0px;width:30.0px;height:13.0px;background:#fff;color:#474747"><span>18.00</span></div>
<div class="c" style="left:649.0px;top:543.0px;width:21.0px;height:13.0px;background:#fff;color:#474747"><span>0</span></div>
<div class="c" style="left:670.0px;top:543.0px;width:41.0px;height:13.0px;background:#fff;color:#474747"><span>18.00</span></div>
<div class="c" style="left:711.0px;top:543.0px;width:42.0px;height:13.0px;background:#fff;color:#474747"><span>0</span></div>
<div class="c" style="left:753.0px;top:543.0px;width:41.0px;height:13.0px;background:#fff;color:#474747"><span>0</span></div>
<div class="c" style="left:794.0px;top:543.0px;width:41.0px;height:13.0px;background:#fff;color:#474747"><span>0</span></div>
<div class="c" style="left:835.0px;top:543.0px;width:39.0px;height:13.0px;background:#fff;color:#474747"><span>0</span></div>
<div class="c" style="left:874.0px;top:543.0px;width:39.0px;height:13.0px;background:#fff;color:#474747"><span>0</span></div>
<div class="c" style="left:913.0px;top:543.0px;width:40.0px;height:13.0px;background:#fff;color:#474747"><span>0</span></div>
<div class="c" style="left:953.0px;top:543.0px;width:39.0px;height:13.0px;background:#fff;color:#474747"><span>0</span></div>
<div class="c" style="left:992.0px;top:543.0px;width:40.0px;height:13.0px;background:#fff;color:#474747"><span>0</span></div>
<div class="c it" style="left:118.0px;top:556.0px;width:32.0px;height:13.0px;background:#fff;color:#474747"><span>ACTUAL</span></div>
<div class="c" style="left:150.0px;top:556.0px;width:30.0px;height:13.0px;background:#ffb6c1;color:#8a2a48"><span>23</span></div>
<div class="c" style="left:180.0px;top:556.0px;width:29.0px;height:13.0px;background:#ffff00;color:#3a3a00"><span>18</span></div>
<div class="c" style="left:209.0px;top:556.0px;width:29.0px;height:13.0px;background:#ffff00;color:#3a3a00"><span>13</span></div>
<div class="c" style="left:238.0px;top:556.0px;width:30.0px;height:13.0px;background:#ffb6c1;color:#8a2a48"><span>17</span></div>
<div class="c" style="left:268.0px;top:556.0px;width:29.0px;height:13.0px;background:#ffb6c1;color:#8a2a48"><span>24</span></div>
<div class="c" style="left:297.0px;top:556.0px;width:29.0px;height:13.0px;background:#ffff00;color:#3a3a00"><span>17</span></div>
<div class="c" style="left:326.0px;top:556.0px;width:30.0px;height:13.0px;background:#ffff00;color:#3a3a00"><span>16</span></div>
<div class="c" style="left:356.0px;top:556.0px;width:29.0px;height:13.0px;background:#ffb6c1;color:#8a2a48"><span>19</span></div>
<div class="c" style="left:385.0px;top:556.0px;width:29.0px;height:13.0px;background:#8fe88f;color:#145214"><span>20</span></div>
<div class="c" style="left:414.0px;top:556.0px;width:30.0px;height:13.0px;background:#8fe88f;color:#145214"><span>21</span></div>
<div class="c" style="left:444.0px;top:556.0px;width:29.0px;height:13.0px;background:#8fe88f;color:#145214"><span>19</span></div>
<div class="c" style="left:473.0px;top:556.0px;width:29.0px;height:13.0px;background:#ffb6c1;color:#8a2a48"><span>20</span></div>
<div class="c" style="left:502.0px;top:556.0px;width:29.0px;height:13.0px;background:#8fe88f;color:#145214"><span>16</span></div>
<div class="c" style="left:531.0px;top:556.0px;width:30.0px;height:13.0px;background:#8fe88f;color:#145214"><span>17</span></div>
<div class="c" style="left:561.0px;top:556.0px;width:29.0px;height:13.0px;background:#8fe88f;color:#145214"><span>18</span></div>
<div class="c" style="left:590.0px;top:556.0px;width:29.0px;height:13.0px;background:#8fe88f;color:#145214"><span>18</span></div>
<div class="c" style="left:619.0px;top:556.0px;width:30.0px;height:13.0px;background:#8fe88f;color:#145214"><span>17</span></div>
<div class="c" style="left:649.0px;top:556.0px;width:21.0px;height:13.0px;background:#ffb6c1;color:#8a2a48"><span>20</span></div>
<div class="c" style="left:670.0px;top:556.0px;width:41.0px;height:13.0px;background:#ffff00;color:#3a3a00"><span>19</span></div>
<div class="c" style="left:711.0px;top:556.0px;width:42.0px;height:13.0px;background:#ffff00;color:#3a3a00"><span>17</span></div>
<div class="c" style="left:753.0px;top:556.0px;width:41.0px;height:13.0px;background:#ffb6c1;color:#8a2a48"><span>20</span></div>
<div class="c" style="left:794.0px;top:556.0px;width:41.0px;height:13.0px;background:#ffb6c1;color:#8a2a48"><span>22</span></div>
<div class="c" style="left:835.0px;top:556.0px;width:39.0px;height:13.0px;background:#ffb6c1;color:#8a2a48"><span>23</span></div>
<div class="c" style="left:874.0px;top:556.0px;width:39.0px;height:13.0px;background:#ffb6c1;color:#8a2a48"><span>30</span></div>
<div class="c" style="left:913.0px;top:556.0px;width:40.0px;height:13.0px;background:#ffff00;color:#3a3a00"><span>17</span></div>
<div class="c" style="left:953.0px;top:556.0px;width:39.0px;height:13.0px;background:#ffb6c1;color:#8a2a48"><span>19</span></div>
<div class="c" style="left:992.0px;top:556.0px;width:40.0px;height:13.0px;background:#ffb6c1;color:#8a2a48"><span>19</span></div>
<div class="c it" style="left:118.0px;top:569.0px;width:32.0px;height:14.0px;background:#fff;color:#474747"><span>GOAL</span></div>
<div class="c" style="left:150.0px;top:569.0px;width:30.0px;height:14.0px;background:#fff;color:#474747"><span>0</span></div>
<div class="c" style="left:180.0px;top:569.0px;width:29.0px;height:14.0px;background:#fff;color:#474747"><span>137.59</span></div>
<div class="c" style="left:209.0px;top:569.0px;width:29.0px;height:14.0px;background:#fff;color:#474747"><span>140.78</span></div>
<div class="c" style="left:238.0px;top:569.0px;width:30.0px;height:14.0px;background:#fff;color:#474747"><span>124.80</span></div>
<div class="c" style="left:268.0px;top:569.0px;width:29.0px;height:14.0px;background:#fff;color:#474747"><span>150.23</span></div>
<div class="c" style="left:297.0px;top:569.0px;width:29.0px;height:14.0px;background:#fff;color:#474747"><span>146.20</span></div>
<div class="c" style="left:326.0px;top:569.0px;width:30.0px;height:14.0px;background:#fff;color:#474747"><span>118.90</span></div>
<div class="c" style="left:356.0px;top:569.0px;width:29.0px;height:14.0px;background:#fff;color:#474747"><span>109.81</span></div>
<div class="c" style="left:385.0px;top:569.0px;width:29.0px;height:14.0px;background:#fff;color:#474747"><span>166.14</span></div>
<div class="c" style="left:414.0px;top:569.0px;width:30.0px;height:14.0px;background:#fff;color:#474747"><span>154.18</span></div>
<div class="c" style="left:444.0px;top:569.0px;width:29.0px;height:14.0px;background:#fff;color:#474747"><span>183.77</span></div>
<div class="c" style="left:473.0px;top:569.0px;width:29.0px;height:14.0px;background:#fff;color:#474747"><span>167.74</span></div>
<div class="c" style="left:502.0px;top:569.0px;width:29.0px;height:14.0px;background:#fff;color:#474747"><span>148.10</span></div>
<div class="c" style="left:531.0px;top:569.0px;width:30.0px;height:14.0px;background:#fff;color:#474747"><span>136.21</span></div>
<div class="c" style="left:561.0px;top:569.0px;width:29.0px;height:14.0px;background:#fff;color:#474747"><span>125.19</span></div>
<div class="c" style="left:590.0px;top:569.0px;width:29.0px;height:14.0px;background:#fff;color:#474747"><span>125.50</span></div>
<div class="c" style="left:619.0px;top:569.0px;width:30.0px;height:14.0px;background:#fff;color:#474747"><span>137.65</span></div>
<div class="c" style="left:649.0px;top:569.0px;width:21.0px;height:14.0px;background:#fff;color:#474747"><span>0</span></div>
<div class="c" style="left:670.0px;top:569.0px;width:41.0px;height:14.0px;background:#fff;color:#474747"><span>147.47</span></div>
<div class="c" style="left:711.0px;top:569.0px;width:42.0px;height:14.0px;background:#fff;color:#474747"><span>0</span></div>
<div class="c" style="left:753.0px;top:569.0px;width:41.0px;height:14.0px;background:#fff;color:#474747"><span>0</span></div>
<div class="c" style="left:794.0px;top:569.0px;width:41.0px;height:14.0px;background:#fff;color:#474747"><span>0</span></div>
<div class="c" style="left:835.0px;top:569.0px;width:39.0px;height:14.0px;background:#fff;color:#474747"><span>0</span></div>
<div class="c" style="left:874.0px;top:569.0px;width:39.0px;height:14.0px;background:#fff;color:#474747"><span>0</span></div>
<div class="c" style="left:913.0px;top:569.0px;width:40.0px;height:14.0px;background:#fff;color:#474747"><span>0</span></div>
<div class="c" style="left:953.0px;top:569.0px;width:39.0px;height:14.0px;background:#fff;color:#474747"><span>0</span></div>
<div class="c" style="left:992.0px;top:569.0px;width:40.0px;height:14.0px;background:#fff;color:#474747"><span>0</span></div>
<div class="c it" style="left:118.0px;top:583.0px;width:32.0px;height:13.0px;background:#fff;color:#474747"><span>ACTUAL</span></div>
<div class="c" style="left:150.0px;top:583.0px;width:30.0px;height:13.0px;background:#ffb6c1;color:#8a2a48"><span>179</span></div>
<div class="c" style="left:180.0px;top:583.0px;width:29.0px;height:13.0px;background:#8fe88f;color:#145214"><span>133</span></div>
<div class="c" style="left:209.0px;top:583.0px;width:29.0px;height:13.0px;background:#ffb6c1;color:#8a2a48"><span>142</span></div>
<div class="c" style="left:238.0px;top:583.0px;width:30.0px;height:13.0px;background:#ffb6c1;color:#8a2a48"><span>153</span></div>
<div class="c" style="left:268.0px;top:583.0px;width:29.0px;height:13.0px;background:#ffb6c1;color:#8a2a48"><span>178</span></div>
<div class="c" style="left:297.0px;top:583.0px;width:29.0px;height:13.0px;background:#ffb6c1;color:#8a2a48"><span>179</span></div>
<div class="c" style="left:326.0px;top:583.0px;width:30.0px;height:13.0px;background:#ffff00;color:#3a3a00"><span>156</span></div>
<div class="c" style="left:356.0px;top:583.0px;width:29.0px;height:13.0px;background:#ffb6c1;color:#8a2a48"><span>162</span></div>
<div class="c" style="left:385.0px;top:583.0px;width:29.0px;height:13.0px;background:#ffb6c1;color:#8a2a48"><span>210</span></div>
<div class="c" style="left:414.0px;top:583.0px;width:30.0px;height:13.0px;background:#ffb6c1;color:#8a2a48"><span>232</span></div>
<div class="c" style="left:444.0px;top:583.0px;width:29.0px;height:13.0px;background:#ffb6c1;color:#8a2a48"><span>238</span></div>
<div class="c" style="left:473.0px;top:583.0px;width:29.0px;height:13.0px;background:#ffff00;color:#3a3a00"><span>213</span></div>
<div class="c" style="left:502.0px;top:583.0px;width:29.0px;height:13.0px;background:#ffff00;color:#3a3a00"><span>204</span></div>
<div class="c" style="left:531.0px;top:583.0px;width:30.0px;height:13.0px;background:#ffff00;color:#3a3a00"><span>145</span></div>
<div class="c" style="left:561.0px;top:583.0px;width:29.0px;height:13.0px;background:#ffb6c1;color:#8a2a48"><span>166</span></div>
<div class="c" style="left:590.0px;top:583.0px;width:29.0px;height:13.0px;background:#ffb6c1;color:#8a2a48"><span>189</span></div>
<div class="c" style="left:619.0px;top:583.0px;width:30.0px;height:13.0px;background:#ffb6c1;color:#8a2a48"><span>219</span></div>
<div class="c" style="left:649.0px;top:583.0px;width:21.0px;height:13.0px;background:#ffb6c1;color:#8a2a48"><span>239</span></div>
<div class="c" style="left:670.0px;top:583.0px;width:41.0px;height:13.0px;background:#ffb6c1;color:#8a2a48"><span>241</span></div>
<div class="c" style="left:711.0px;top:583.0px;width:42.0px;height:13.0px;background:#ffff00;color:#3a3a00"><span>233</span></div>
<div class="c" style="left:753.0px;top:583.0px;width:41.0px;height:13.0px;background:#ffb6c1;color:#8a2a48"><span>251</span></div>
<div class="c" style="left:794.0px;top:583.0px;width:41.0px;height:13.0px;background:#ffff00;color:#3a3a00"><span>245</span></div>
<div class="c" style="left:835.0px;top:583.0px;width:39.0px;height:13.0px;background:#ffff00;color:#3a3a00"><span>231</span></div>
<div class="c" style="left:874.0px;top:583.0px;width:39.0px;height:13.0px;background:#ffff00;color:#3a3a00"><span>221</span></div>
<div class="c" style="left:913.0px;top:583.0px;width:40.0px;height:13.0px;background:#ffb6c1;color:#8a2a48"><span>223</span></div>
<div class="c" style="left:953.0px;top:583.0px;width:39.0px;height:13.0px;background:#ffb6c1;color:#8a2a48"><span>230</span></div>
<div class="c" style="left:992.0px;top:583.0px;width:40.0px;height:13.0px;background:#ffb6c1;color:#8a2a48"><span>235</span></div>
<div class="c it" style="left:118.0px;top:596.0px;width:32.0px;height:13.0px;background:#fff;color:#474747"><span>GOAL</span></div>
<div class="c" style="left:150.0px;top:596.0px;width:30.0px;height:13.0px;background:#fff;color:#474747"><span>0</span></div>
<div class="c" style="left:180.0px;top:596.0px;width:29.0px;height:13.0px;background:#fff;color:#474747"><span>117.00</span></div>
<div class="c" style="left:209.0px;top:596.0px;width:29.0px;height:13.0px;background:#fff;color:#474747"><span>105.78</span></div>
<div class="c" style="left:238.0px;top:596.0px;width:30.0px;height:13.0px;background:#fff;color:#474747"><span>105.93</span></div>
<div class="c" style="left:268.0px;top:596.0px;width:29.0px;height:13.0px;background:#fff;color:#474747"><span>124.23</span></div>
<div class="c" style="left:297.0px;top:596.0px;width:29.0px;height:13.0px;background:#fff;color:#474747"><span>129.73</span></div>
<div class="c" style="left:326.0px;top:596.0px;width:30.0px;height:13.0px;background:#fff;color:#474747"><span>111.04</span></div>
<div class="c" style="left:356.0px;top:596.0px;width:29.0px;height:13.0px;background:#fff;color:#474747"><span>108.98</span></div>
<div class="c" style="left:385.0px;top:596.0px;width:29.0px;height:13.0px;background:#fff;color:#474747"><span>138.82</span></div>
<div class="c" style="left:414.0px;top:596.0px;width:30.0px;height:13.0px;background:#fff;color:#474747"><span>128.65</span></div>
<div class="c" style="left:444.0px;top:596.0px;width:29.0px;height:13.0px;background:#fff;color:#474747"><span>120.50</span></div>
<div class="c" style="left:473.0px;top:596.0px;width:29.0px;height:13.0px;background:#fff;color:#474747"><span>108.19</span></div>
<div class="c" style="left:502.0px;top:596.0px;width:29.0px;height:13.0px;background:#fff;color:#474747"><span>100.32</span></div>
<div class="c" style="left:531.0px;top:596.0px;width:30.0px;height:13.0px;background:#fff;color:#474747"><span>95.77</span></div>
<div class="c" style="left:561.0px;top:596.0px;width:29.0px;height:13.0px;background:#fff;color:#474747"><span>112.67</span></div>
<div class="c" style="left:590.0px;top:596.0px;width:29.0px;height:13.0px;background:#fff;color:#474747"><span>117.75</span></div>
<div class="c" style="left:619.0px;top:596.0px;width:30.0px;height:13.0px;background:#fff;color:#474747"><span>121.63</span></div>
<div class="c" style="left:649.0px;top:596.0px;width:21.0px;height:13.0px;background:#fff;color:#474747"><span>0</span></div>
<div class="c" style="left:670.0px;top:596.0px;width:41.0px;height:13.0px;background:#fff;color:#474747"><span>126.97</span></div>
<div class="c" style="left:711.0px;top:596.0px;width:42.0px;height:13.0px;background:#fff;color:#474747"><span>0</span></div>
<div class="c" style="left:753.0px;top:596.0px;width:41.0px;height:13.0px;background:#fff;color:#474747"><span>0</span></div>
<div class="c" style="left:794.0px;top:596.0px;width:41.0px;height:13.0px;background:#fff;color:#474747"><span>0</span></div>
<div class="c" style="left:835.0px;top:596.0px;width:39.0px;height:13.0px;background:#fff;color:#474747"><span>0</span></div>
<div class="c" style="left:874.0px;top:596.0px;width:39.0px;height:13.0px;background:#fff;color:#474747"><span>0</span></div>
<div class="c" style="left:913.0px;top:596.0px;width:40.0px;height:13.0px;background:#fff;color:#474747"><span>0</span></div>
<div class="c" style="left:953.0px;top:596.0px;width:39.0px;height:13.0px;background:#fff;color:#474747"><span>0</span></div>
<div class="c" style="left:992.0px;top:596.0px;width:40.0px;height:13.0px;background:#fff;color:#474747"><span>0</span></div>
<div class="c it" style="left:118.0px;top:609.0px;width:32.0px;height:13.0px;background:#fff;color:#474747"><span>ACTUAL</span></div>
<div class="c" style="left:150.0px;top:609.0px;width:30.0px;height:13.0px;background:#ffb6c1;color:#8a2a48"><span>141</span></div>
<div class="c" style="left:180.0px;top:609.0px;width:29.0px;height:13.0px;background:#ffff00;color:#3a3a00"><span>135</span></div>
<div class="c" style="left:209.0px;top:609.0px;width:29.0px;height:13.0px;background:#8fe88f;color:#145214"><span>100</span></div>
<div class="c" style="left:238.0px;top:609.0px;width:30.0px;height:13.0px;background:#ffb6c1;color:#8a2a48"><span>112</span></div>
<div class="c" style="left:268.0px;top:609.0px;width:29.0px;height:13.0px;background:#ffb6c1;color:#8a2a48"><span>150</span></div>
<div class="c" style="left:297.0px;top:609.0px;width:29.0px;height:13.0px;background:#ffb6c1;color:#8a2a48"><span>265</span></div>
<div class="c" style="left:326.0px;top:609.0px;width:30.0px;height:13.0px;background:#ffb6c1;color:#8a2a48"><span>287</span></div>
<div class="c" style="left:356.0px;top:609.0px;width:29.0px;height:13.0px;background:#ffff00;color:#3a3a00"><span>218</span></div>
<div class="c" style="left:385.0px;top:609.0px;width:29.0px;height:13.0px;background:#ffb6c1;color:#8a2a48"><span>312</span></div>
<div class="c" style="left:414.0px;top:609.0px;width:30.0px;height:13.0px;background:#ffb6c1;color:#8a2a48"><span>409</span></div>
<div class="c" style="left:444.0px;top:609.0px;width:29.0px;height:13.0px;background:#ffb6c1;color:#8a2a48"><span>539</span></div>
<div class="c" style="left:473.0px;top:609.0px;width:29.0px;height:13.0px;background:#ffb6c1;color:#8a2a48"><span>589</span></div>
<div class="c" style="left:502.0px;top:609.0px;width:29.0px;height:13.0px;background:#ffb6c1;color:#8a2a48"><span>626</span></div>
<div class="c" style="left:531.0px;top:609.0px;width:30.0px;height:13.0px;background:#ffff00;color:#3a3a00"><span>432</span></div>
<div class="c" style="left:561.0px;top:609.0px;width:29.0px;height:13.0px;background:#ffff00;color:#3a3a00"><span>381</span></div>
<div class="c" style="left:590.0px;top:609.0px;width:29.0px;height:13.0px;background:#ffb6c1;color:#8a2a48"><span>630</span></div>
<div class="c" style="left:619.0px;top:609.0px;width:30.0px;height:13.0px;background:#ffb6c1;color:#8a2a48"><span>697</span></div>
<div class="c" style="left:649.0px;top:609.0px;width:21.0px;height:13.0px;background:#ffff00;color:#3a3a00"><span>653</span></div>
<div class="c" style="left:670.0px;top:609.0px;width:41.0px;height:13.0px;background:#ffb6c1;color:#8a2a48"><span>765</span></div>
<div class="c" style="left:711.0px;top:609.0px;width:42.0px;height:13.0px;background:#ffff00;color:#3a3a00"><span>763</span></div>
<div class="c" style="left:753.0px;top:609.0px;width:41.0px;height:13.0px;background:#ffff00;color:#3a3a00"><span>650</span></div>
<div class="c" style="left:794.0px;top:609.0px;width:41.0px;height:13.0px;background:#ffff00;color:#3a3a00"><span>588</span></div>
<div class="c" style="left:835.0px;top:609.0px;width:39.0px;height:13.0px;background:#ffff00;color:#3a3a00"><span>547</span></div>
<div class="c" style="left:874.0px;top:609.0px;width:39.0px;height:13.0px;background:#ffb6c1;color:#8a2a48"><span>567</span></div>
<div class="c" style="left:913.0px;top:609.0px;width:40.0px;height:13.0px;background:#ffb6c1;color:#8a2a48"><span>582</span></div>
<div class="c" style="left:953.0px;top:609.0px;width:39.0px;height:13.0px;background:#ffff00;color:#3a3a00"><span>571</span></div>
<div class="c" style="left:992.0px;top:609.0px;width:40.0px;height:13.0px;background:#ffff00;color:#3a3a00"><span>561</span></div>
<div class="c it" style="left:118.0px;top:622.0px;width:32.0px;height:14.0px;background:#fff;color:#474747"><span>GOAL</span></div>
<div class="c" style="left:150.0px;top:622.0px;width:30.0px;height:14.0px;background:#fff;color:#474747"><span>0</span></div>
<div class="c" style="left:180.0px;top:622.0px;width:29.0px;height:14.0px;background:#fff;color:#474747"><span>27.00</span></div>
<div class="c" style="left:209.0px;top:622.0px;width:29.0px;height:14.0px;background:#fff;color:#474747"><span>27.00</span></div>
<div class="c" style="left:238.0px;top:622.0px;width:30.0px;height:14.0px;background:#fff;color:#474747"><span>27.00</span></div>
<div class="c" style="left:268.0px;top:622.0px;width:29.0px;height:14.0px;background:#fff;color:#474747"><span>27.00</span></div>
<div class="c" style="left:297.0px;top:622.0px;width:29.0px;height:14.0px;background:#fff;color:#474747"><span>27.00</span></div>
<div class="c" style="left:326.0px;top:622.0px;width:30.0px;height:14.0px;background:#fff;color:#474747"><span>27.00</span></div>
<div class="c" style="left:356.0px;top:622.0px;width:29.0px;height:14.0px;background:#fff;color:#474747"><span>27.00</span></div>
<div class="c" style="left:385.0px;top:622.0px;width:29.0px;height:14.0px;background:#fff;color:#474747"><span>22.00</span></div>
<div class="c" style="left:414.0px;top:622.0px;width:30.0px;height:14.0px;background:#fff;color:#474747"><span>22.00</span></div>
<div class="c" style="left:444.0px;top:622.0px;width:29.0px;height:14.0px;background:#fff;color:#474747"><span>22.00</span></div>
<div class="c" style="left:473.0px;top:622.0px;width:29.0px;height:14.0px;background:#fff;color:#474747"><span>21.00</span></div>
<div class="c" style="left:502.0px;top:622.0px;width:29.0px;height:14.0px;background:#fff;color:#474747"><span>21.00</span></div>
<div class="c" style="left:531.0px;top:622.0px;width:30.0px;height:14.0px;background:#fff;color:#474747"><span>21.00</span></div>
<div class="c" style="left:561.0px;top:622.0px;width:29.0px;height:14.0px;background:#fff;color:#474747"><span>21.00</span></div>
<div class="c" style="left:590.0px;top:622.0px;width:29.0px;height:14.0px;background:#fff;color:#474747"><span>21.00</span></div>
<div class="c" style="left:619.0px;top:622.0px;width:30.0px;height:14.0px;background:#fff;color:#474747"><span>21.00</span></div>
<div class="c" style="left:649.0px;top:622.0px;width:21.0px;height:14.0px;background:#fff;color:#474747"><span>0</span></div>
<div class="c" style="left:670.0px;top:622.0px;width:41.0px;height:14.0px;background:#fff;color:#474747"><span>21.00</span></div>
<div class="c" style="left:711.0px;top:622.0px;width:42.0px;height:14.0px;background:#fff;color:#474747"><span>0</span></div>
<div class="c" style="left:753.0px;top:622.0px;width:41.0px;height:14.0px;background:#fff;color:#474747"><span>0</span></div>
<div class="c" style="left:794.0px;top:622.0px;width:41.0px;height:14.0px;background:#fff;color:#474747"><span>0</span></div>
<div class="c" style="left:835.0px;top:622.0px;width:39.0px;height:14.0px;background:#fff;color:#474747"><span>0</span></div>
<div class="c" style="left:874.0px;top:622.0px;width:39.0px;height:14.0px;background:#fff;color:#474747"><span>0</span></div>
<div class="c" style="left:913.0px;top:622.0px;width:40.0px;height:14.0px;background:#fff;color:#474747"><span>0</span></div>
<div class="c" style="left:953.0px;top:622.0px;width:39.0px;height:14.0px;background:#fff;color:#474747"><span>0</span></div>
<div class="c" style="left:992.0px;top:622.0px;width:40.0px;height:14.0px;background:#fff;color:#474747"><span>0</span></div>
<div class="c it" style="left:118.0px;top:636.0px;width:32.0px;height:13.0px;background:#fff;color:#474747"><span>ACTUAL</span></div>
<div class="c" style="left:150.0px;top:636.0px;width:30.0px;height:13.0px;background:#ffb6c1;color:#8a2a48"><span>20</span></div>
<div class="c" style="left:180.0px;top:636.0px;width:29.0px;height:13.0px;background:#8fe88f;color:#145214"><span>18</span></div>
<div class="c" style="left:209.0px;top:636.0px;width:29.0px;height:13.0px;background:#8fe88f;color:#145214"><span>17</span></div>
<div class="c" style="left:238.0px;top:636.0px;width:30.0px;height:13.0px;background:#8fe88f;color:#145214"><span>16</span></div>
<div class="c" style="left:268.0px;top:636.0px;width:29.0px;height:13.0px;background:#8fe88f;color:#145214"><span>25</span></div>
<div class="c" style="left:297.0px;top:636.0px;width:29.0px;height:13.0px;background:#8fe88f;color:#145214"><span>20</span></div>
<div class="c" style="left:326.0px;top:636.0px;width:30.0px;height:13.0px;background:#8fe88f;color:#145214"><span>20</span></div>
<div class="c" style="left:356.0px;top:636.0px;width:29.0px;height:13.0px;background:#8fe88f;color:#145214"><span>17</span></div>
<div class="c" style="left:385.0px;top:636.0px;width:29.0px;height:13.0px;background:#ffb6c1;color:#8a2a48"><span>35</span></div>
<div class="c" style="left:414.0px;top:636.0px;width:30.0px;height:13.0px;background:#ffff00;color:#3a3a00"><span>30</span></div>
<div class="c" style="left:444.0px;top:636.0px;width:29.0px;height:13.0px;background:#ffb6c1;color:#8a2a48"><span>35</span></div>
<div class="c" style="left:473.0px;top:636.0px;width:29.0px;height:13.0px;background:#ffb6c1;color:#8a2a48"><span>51</span></div>
<div class="c" style="left:502.0px;top:636.0px;width:29.0px;height:13.0px;background:#8fe88f;color:#145214"><span>20</span></div>
<div class="c" style="left:531.0px;top:636.0px;width:30.0px;height:13.0px;background:#ffb6c1;color:#8a2a48"><span>36</span></div>
<div class="c" style="left:561.0px;top:636.0px;width:29.0px;height:13.0px;background:#8fe88f;color:#145214"><span>19</span></div>
<div class="c" style="left:590.0px;top:636.0px;width:29.0px;height:13.0px;background:#ffb6c1;color:#8a2a48"><span>50</span></div>
<div class="c" style="left:619.0px;top:636.0px;width:30.0px;height:13.0px;background:#8fe88f;color:#145214"><span>7</span></div>
<div class="c" style="left:649.0px;top:636.0px;width:21.0px;height:13.0px;background:#ffff00;color:#3a3a00"><span>3</span></div>
<div class="c" style="left:670.0px;top:636.0px;width:41.0px;height:13.0px;background:#8fe88f;color:#145214"><span>1</span></div>
<div class="c" style="left:711.0px;top:636.0px;width:42.0px;height:13.0px;background:#ffb6c1;color:#8a2a48"><span>1</span></div>
<div class="c" style="left:753.0px;top:636.0px;width:41.0px;height:13.0px;background:#ffffff;color:#474747"><span></span></div>
<div class="c" style="left:794.0px;top:636.0px;width:41.0px;height:13.0px;background:#ffb6c1;color:#8a2a48"><span>6</span></div>
<div class="c" style="left:835.0px;top:636.0px;width:39.0px;height:13.0px;background:#ffb6c1;color:#8a2a48"><span>6</span></div>
<div class="c" style="left:874.0px;top:636.0px;width:39.0px;height:13.0px;background:#ffb6c1;color:#8a2a48"><span>6</span></div>
<div class="c" style="left:913.0px;top:636.0px;width:40.0px;height:13.0px;background:#ffffff;color:#474747"><span></span></div>
<div class="c" style="left:953.0px;top:636.0px;width:39.0px;height:13.0px;background:#ffffff;color:#474747"><span></span></div>
<div class="c" style="left:992.0px;top:636.0px;width:40.0px;height:13.0px;background:#ffffff;color:#474747"><span></span></div>
<div class="c it" style="left:118.0px;top:649.0px;width:32.0px;height:13.0px;background:#fff;color:#474747"><span>GOAL</span></div>
<div class="c" style="left:150.0px;top:649.0px;width:30.0px;height:13.0px;background:#fff;color:#474747"><span>571.10</span></div>
<div class="c" style="left:180.0px;top:649.0px;width:29.0px;height:13.0px;background:#fff;color:#474747"><span>540.74</span></div>
<div class="c" style="left:209.0px;top:649.0px;width:29.0px;height:13.0px;background:#fff;color:#474747"><span>506.79</span></div>
<div class="c" style="left:238.0px;top:649.0px;width:30.0px;height:13.0px;background:#fff;color:#474747"><span>526.08</span></div>
<div class="c" style="left:268.0px;top:649.0px;width:29.0px;height:13.0px;background:#fff;color:#474747"><span>570.18</span></div>
<div class="c" style="left:297.0px;top:649.0px;width:29.0px;height:13.0px;background:#fff;color:#474747"><span>563.09</span></div>
<div class="c" style="left:326.0px;top:649.0px;width:30.0px;height:13.0px;background:#fff;color:#474747"><span>531.49</span></div>
<div class="c" style="left:356.0px;top:649.0px;width:29.0px;height:13.0px;background:#fff;color:#474747"><span>524.10</span></div>
<div class="c" style="left:385.0px;top:649.0px;width:29.0px;height:13.0px;background:#fff;color:#474747"><span>657.68</span></div>
<div class="c" style="left:414.0px;top:649.0px;width:30.0px;height:13.0px;background:#fff;color:#474747"><span>615.67</span></div>
<div class="c" style="left:444.0px;top:649.0px;width:29.0px;height:13.0px;background:#fff;color:#474747"><span>666.11</span></div>
<div class="c" style="left:473.0px;top:649.0px;width:29.0px;height:13.0px;background:#fff;color:#474747"><span>598.86</span></div>
<div class="c" style="left:502.0px;top:649.0px;width:29.0px;height:13.0px;background:#fff;color:#474747"><span>575.70</span></div>
<div class="c" style="left:531.0px;top:649.0px;width:30.0px;height:13.0px;background:#fff;color:#474747"><span>566.78</span></div>
<div class="c" style="left:561.0px;top:649.0px;width:29.0px;height:13.0px;background:#fff;color:#474747"><span>535.97</span></div>
<div class="c" style="left:590.0px;top:649.0px;width:29.0px;height:13.0px;background:#fff;color:#474747"><span>551.91</span></div>
<div class="c" style="left:619.0px;top:649.0px;width:30.0px;height:13.0px;background:#fff;color:#474747"><span>570.95</span></div>
<div class="c" style="left:649.0px;top:649.0px;width:21.0px;height:13.0px;background:#fff;color:#474747"><span></span></div>
<div class="c" style="left:670.0px;top:649.0px;width:41.0px;height:13.0px;background:#fff;color:#474747"><span>572.59</span></div>
<div class="c" style="left:711.0px;top:649.0px;width:42.0px;height:13.0px;background:#fff;color:#474747"><span></span></div>
<div class="c" style="left:753.0px;top:649.0px;width:41.0px;height:13.0px;background:#fff;color:#474747"><span></span></div>
<div class="c" style="left:794.0px;top:649.0px;width:41.0px;height:13.0px;background:#fff;color:#474747"><span></span></div>
<div class="c" style="left:835.0px;top:649.0px;width:39.0px;height:13.0px;background:#fff;color:#474747"><span></span></div>
<div class="c" style="left:874.0px;top:649.0px;width:39.0px;height:13.0px;background:#fff;color:#474747"><span></span></div>
<div class="c" style="left:913.0px;top:649.0px;width:40.0px;height:13.0px;background:#fff;color:#474747"><span></span></div>
<div class="c" style="left:953.0px;top:649.0px;width:39.0px;height:13.0px;background:#fff;color:#474747"><span></span></div>
<div class="c" style="left:992.0px;top:649.0px;width:40.0px;height:13.0px;background:#fff;color:#474747"><span></span></div>
<div class="c it" style="left:118.0px;top:662.0px;width:32.0px;height:13.0px;background:#fff;color:#474747"><span>ACTUAL</span></div>
<div class="c" style="left:150.0px;top:662.0px;width:30.0px;height:13.0px;background:#ffb6c1;color:#474747"><span></span></div>
<div class="c" style="left:180.0px;top:662.0px;width:29.0px;height:13.0px;background:#ffff00;color:#474747"><span></span></div>
<div class="c" style="left:209.0px;top:662.0px;width:29.0px;height:13.0px;background:#ffff00;color:#474747"><span></span></div>
<div class="c" style="left:238.0px;top:662.0px;width:30.0px;height:13.0px;background:#ffb6c1;color:#474747"><span></span></div>
<div class="c" style="left:268.0px;top:662.0px;width:29.0px;height:13.0px;background:#ffb6c1;color:#474747"><span></span></div>
<div class="c" style="left:297.0px;top:662.0px;width:29.0px;height:13.0px;background:#ffb6c1;color:#474747"><span></span></div>
<div class="c" style="left:326.0px;top:662.0px;width:30.0px;height:13.0px;background:#ffb6c1;color:#474747"><span></span></div>
<div class="c" style="left:356.0px;top:662.0px;width:29.0px;height:13.0px;background:#ffff00;color:#474747"><span></span></div>
<div class="c" style="left:385.0px;top:662.0px;width:29.0px;height:13.0px;background:#ffb6c1;color:#474747"><span></span></div>
<div class="c" style="left:414.0px;top:662.0px;width:30.0px;height:13.0px;background:#ffb6c1;color:#474747"><span></span></div>
<div class="c" style="left:444.0px;top:662.0px;width:29.0px;height:13.0px;background:#ffb6c1;color:#474747"><span></span></div>
<div class="c" style="left:473.0px;top:662.0px;width:29.0px;height:13.0px;background:#ffb6c1;color:#474747"><span></span></div>
<div class="c" style="left:502.0px;top:662.0px;width:29.0px;height:13.0px;background:#ffb6c1;color:#474747"><span></span></div>
<div class="c" style="left:531.0px;top:662.0px;width:30.0px;height:13.0px;background:#ffff00;color:#474747"><span></span></div>
<div class="c" style="left:561.0px;top:662.0px;width:29.0px;height:13.0px;background:#ffff00;color:#474747"><span></span></div>
<div class="c" style="left:590.0px;top:662.0px;width:29.0px;height:13.0px;background:#ffb6c1;color:#474747"><span></span></div>
<div class="c" style="left:619.0px;top:662.0px;width:30.0px;height:13.0px;background:#ffb6c1;color:#474747"><span></span></div>
<div class="c" style="left:649.0px;top:662.0px;width:21.0px;height:13.0px;background:#fff;color:#474747"><span></span></div>
<div class="c" style="left:670.0px;top:662.0px;width:41.0px;height:13.0px;background:#ffb6c1;color:#474747"><span></span></div>
<div class="c" style="left:711.0px;top:662.0px;width:42.0px;height:13.0px;background:#fff;color:#474747"><span></span></div>
<div class="c" style="left:753.0px;top:662.0px;width:41.0px;height:13.0px;background:#fff;color:#474747"><span></span></div>
<div class="c" style="left:794.0px;top:662.0px;width:41.0px;height:13.0px;background:#fff;color:#474747"><span></span></div>
<div class="c" style="left:835.0px;top:662.0px;width:39.0px;height:13.0px;background:#fff;color:#474747"><span></span></div>
<div class="c" style="left:874.0px;top:662.0px;width:39.0px;height:13.0px;background:#fff;color:#474747"><span></span></div>
<div class="c" style="left:913.0px;top:662.0px;width:40.0px;height:13.0px;background:#fff;color:#474747"><span></span></div>
<div class="c" style="left:953.0px;top:662.0px;width:39.0px;height:13.0px;background:#fff;color:#474747"><span></span></div>
<div class="c" style="left:992.0px;top:662.0px;width:40.0px;height:13.0px;background:#fff;color:#474747"><span></span></div>
<div class="lob" style="top:437px;height:26px"><span></span></div>
<div class="lob" style="top:463px;height:27px"><span></span></div>
<div class="lob" style="top:490px;height:26px"><span></span></div>
<div class="lob" style="top:516px;height:27px"><span></span></div>
<div class="lob" style="top:543px;height:26px"><span>sample_line</span></div>
<div class="lob" style="top:569px;height:27px"><span></span></div>
<div class="lob" style="top:596px;height:26px"><span></span></div>
<div class="lob" style="top:622px;height:27px"><span>W/H</span></div>
<div class="lob" style="top:649px;height:26px"><span>Total</span></div>
<div class="rd" style="left:25.4px;top:442.6px;width:12.6px;height:10.9px"></div>
<div class="rd" style="left:25px;top:473.3px;width:16.6px;height:9.0px"></div>
<div class="rd" style="left:24.5px;top:497.7px;width:15.7px;height:9.0px"></div>
<div class="rd" style="left:25.4px;top:523px;width:20.8px;height:11.6px"></div>
<div class="rd" style="left:23.2px;top:578.8px;width:25.7px;height:9.9px"></div>
<div class="rd" style="left:23.6px;top:604px;width:19.9px;height:9.6px"></div>
<div class="kpi" style="top:437px;height:238px"><span>未結工單筆數</span></div>
</div>

<svg class="swoosh" style="position:absolute;left:0;top:0" width="1042" height="721" viewBox="0 0 1042 721">
<defs>
<linearGradient id="sg" x1="936" y1="700" x2="1000" y2="738" gradientUnits="userSpaceOnUse">
<stop offset="0" stop-color="#1a64b8"/><stop offset="0.08" stop-color="#0a98e0"/><stop offset="0.2" stop-color="#00e8ff"/><stop offset="0.32" stop-color="#00d4f8"/><stop offset="0.42" stop-color="#0a98dc"/><stop offset="0.52" stop-color="#0a62b6"/><stop offset="0.6" stop-color="#0a3e8a"/><stop offset="0.7" stop-color="#1468b8"/><stop offset="0.82" stop-color="#6aa8dc"/><stop offset="0.94" stop-color="#e0eef8"/><stop offset="1" stop-color="#ffffff"/>
</linearGradient>
<linearGradient id="sg2" x1="0" y1="640" x2="0" y2="690" gradientUnits="userSpaceOnUse">
<stop offset="0" stop-color="#1858a6"/><stop offset="0.35" stop-color="#2468b2"/><stop offset="0.7" stop-color="#7eb0d8"/><stop offset="1" stop-color="#ffffff"/>
</linearGradient>
</defs>
<path d="M937.6,702 C955,692 975,686 990,682 L1033,668 L1033,684 C1025,694 1012,705 1001,721 L942,721 C940,713 938,707 937.6,702 Z" fill="url(#sg)"/>
<path d="M1034.3,650 L1042,639.5 L1042,692 L1034.3,692 Z" fill="url(#sg2)"/>
</svg>
<div class="wm"></div>

<svg style="position:absolute;left:751px;top:655px" width="46" height="40" viewBox="0 0 46 40">
<g fill="#fff" stroke="#7a7a7a" stroke-width="0.75">
<path d="M16,2 C7,2 1.5,7.5 1.5,14 C1.5,18 3.5,21 6.5,23 L5,28 L10.5,25 C12.5,26 14,26.5 16,26.5 C25,26.5 31,21 31,14 C31,7.5 25,2 16,2 Z"/>
<path d="M30,12 C22.5,12 17.5,17 17.5,23 C17.5,29 22.5,34 30,34 C32,34 33.5,33.7 35,33.2 L41,36.5 L39,31.2 C41.5,29.5 43,26.5 43,23 C43,17 37.5,12 30,12 Z"/>
</g>
<g fill="none" stroke="#777" stroke-width="0.9"><path d="M9.5,10 l1.2,-1 l1.2,1 M19,10 l1.2,-1 l1.2,1"/><path d="M24.5,21 l1,-0.8 l1,0.8 M32.5,21 l1,-0.8 l1,0.8"/></g>
</svg>
<div class="wmt">顺星电子科技集团</div>
</body>
</html>
